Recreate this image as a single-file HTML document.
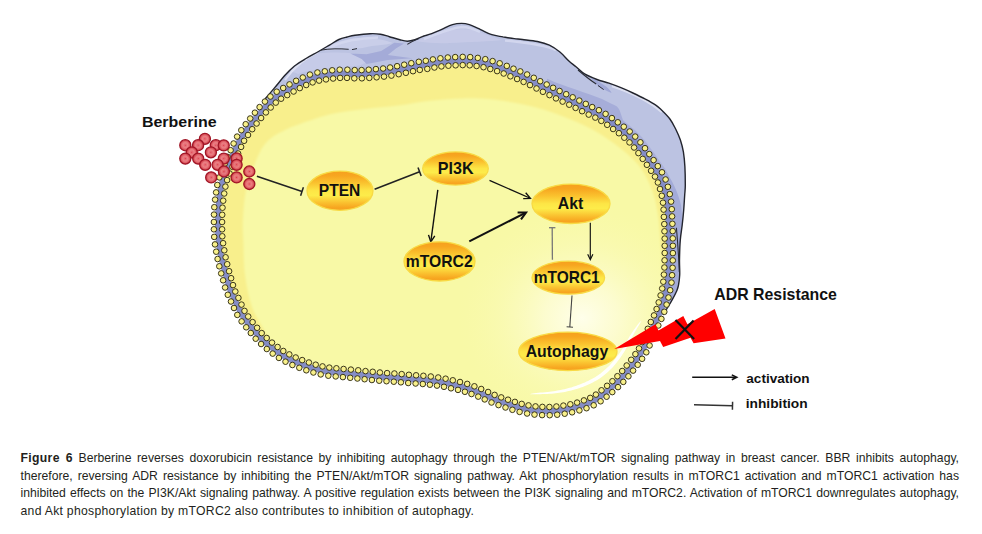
<!DOCTYPE html>
<html><head><meta charset="utf-8"><style>
html,body{margin:0;padding:0;background:#fff;width:982px;height:534px;overflow:hidden;}
svg{position:absolute;left:0;top:0;}
svg text{font-family:"Liberation Sans",sans-serif;font-weight:bold;fill:#111;}
#cap{position:absolute;left:20.5px;top:450.2px;width:938.5px;font-family:"Liberation Sans",sans-serif;font-size:12.2px;line-height:17.6px;color:#231f20;}
#cap div{text-align:justify;text-align-last:justify;white-space:nowrap;}
#cap div.last{text-align-last:left;letter-spacing:0.29px;}
#cap b{letter-spacing:0.35px;}
</style></head><body>
<svg width="982" height="534" viewBox="0 0 982 534">
<defs>
<linearGradient id="eg" x1="0" y1="0" x2="0" y2="1">
<stop offset="0" stop-color="#f6a01e"/><stop offset="0.12" stop-color="#f7a620"/><stop offset="0.3" stop-color="#fac22e"/><stop offset="0.5" stop-color="#fde646"/><stop offset="0.62" stop-color="#fdec4a"/>
<stop offset="0.8" stop-color="#fac230"/><stop offset="0.93" stop-color="#f7a620"/><stop offset="1" stop-color="#f6a01e"/></linearGradient>
<radialGradient id="bg" cx="0.5" cy="0.5" r="0.5">
<stop offset="0" stop-color="#dc2c3c"/><stop offset="0.12" stop-color="#e4606a"/><stop offset="0.45" stop-color="#ea7c80"/>
<stop offset="0.72" stop-color="#de5860"/><stop offset="0.9" stop-color="#cc3644"/><stop offset="1" stop-color="#b41e2e"/></radialGradient>
<radialGradient id="glow" cx="0.5" cy="0.5" r="0.5">
<stop offset="0" stop-color="#ffffee" stop-opacity="0.95"/><stop offset="0.3" stop-color="#fefde0" stop-opacity="0.7"/><stop offset="0.65" stop-color="#fcfbc8" stop-opacity="0.3"/><stop offset="1" stop-color="#fbf9b0" stop-opacity="0"/></radialGradient>
<clipPath id="cellclip"><path d="M218.0 222.0 C218.0 217.3 218.1 212.2 218.4 208.0 C218.7 203.8 218.9 201.5 219.6 197.0 C220.3 192.5 220.8 186.7 222.5 181.0 C224.2 175.3 227.2 168.5 229.5 163.0 C231.8 157.5 234.3 151.9 236.2 147.8 C238.0 143.8 238.8 141.8 240.6 138.7 C242.4 135.5 245.5 131.5 247.3 128.9 C249.2 126.3 250.2 125.1 251.7 123.2 C253.2 121.3 254.7 119.3 256.2 117.5 C257.7 115.7 259.1 114.0 260.7 112.2 C262.2 110.4 262.9 109.3 265.5 106.8 C268.1 104.3 272.2 100.0 276.0 97.2 C279.8 94.4 284.0 92.3 288.0 90.0 C292.0 87.7 295.7 85.5 300.0 83.4 C304.3 81.3 309.0 79.0 314.0 77.6 C319.0 76.1 325.1 75.3 330.0 74.7 C334.9 74.1 338.9 73.8 343.7 73.7 C348.5 73.6 353.7 74.3 358.7 74.3 C363.7 74.2 368.7 73.8 373.7 73.4 C378.7 73.0 383.8 72.6 388.7 71.9 C393.6 71.2 398.2 70.2 402.9 69.2 C407.6 68.2 413.5 66.9 417.1 66.2 C420.7 65.5 420.9 65.8 424.5 65.2 C428.1 64.6 433.9 63.2 438.7 62.6 C443.5 62.0 448.3 61.5 453.2 61.3 C458.1 61.0 463.2 60.8 468.2 61.1 C473.1 61.4 477.9 61.9 482.9 62.9 C487.8 63.9 493.3 65.5 497.9 67.0 C502.5 68.5 506.2 70.2 510.5 71.9 C514.8 73.6 519.3 75.4 523.7 77.4 C528.1 79.4 532.4 81.8 536.7 84.0 C541.0 86.2 545.3 88.4 549.6 90.6 C553.9 92.8 558.1 94.8 562.4 96.9 C566.7 99.0 571.3 101.2 575.6 103.3 C579.9 105.4 583.9 107.6 588.1 109.7 C592.4 111.8 596.9 113.6 601.1 116.0 C605.3 118.4 609.2 121.2 613.1 124.0 C617.0 126.8 621.0 129.5 624.7 132.6 C628.4 135.7 632.0 139.0 635.3 142.6 C638.6 146.2 641.5 150.4 644.4 154.3 C647.3 158.2 650.1 162.0 652.7 165.9 C655.3 169.8 658.3 173.7 660.2 177.5 C662.1 181.3 663.1 184.8 664.3 189.0 C665.4 193.2 666.5 197.9 667.1 202.5 C667.7 207.1 667.8 211.9 668.0 216.7 C668.2 221.4 668.5 226.3 668.6 231.0 C668.7 235.7 668.8 240.4 668.8 245.0 C668.8 249.6 668.8 254.1 668.7 258.7 C668.6 263.3 668.5 267.9 668.2 272.5 C667.9 277.1 667.6 281.6 666.8 286.3 C666.0 291.0 664.6 296.2 663.4 300.6 C662.2 305.1 661.1 308.8 659.5 313.0 C657.9 317.2 656.0 320.4 653.5 326.0 C651.0 331.6 647.3 341.1 644.7 346.3 C642.1 351.6 641.3 352.9 638.0 357.5 C634.7 362.1 628.9 369.5 625.0 374.0 C621.1 378.5 618.0 381.5 614.8 384.5 C611.6 387.5 609.2 389.5 605.7 392.2 C602.2 394.9 598.2 398.3 594.0 400.6 C589.8 402.9 584.8 404.4 580.2 405.9 C575.6 407.3 571.0 408.4 566.3 409.3 C561.5 410.2 556.6 410.8 551.7 411.0 C546.8 411.2 541.8 411.1 537.0 410.7 C532.2 410.3 527.4 409.5 522.7 408.4 C518.0 407.3 513.3 405.7 508.6 404.2 C503.9 402.7 499.1 401.1 494.6 399.3 C490.1 397.5 486.1 395.4 481.6 393.6 C477.2 391.8 472.5 389.9 467.9 388.4 C463.3 386.9 458.8 385.9 454.2 384.8 C449.6 383.7 444.9 382.7 440.1 381.9 C435.3 381.1 430.3 380.6 425.4 380.1 C420.5 379.6 415.7 379.5 410.9 379.1 C406.1 378.7 401.3 378.2 396.5 377.8 C391.7 377.4 386.7 377.2 381.9 376.8 C377.1 376.4 372.3 375.9 367.5 375.4 C362.7 374.9 357.8 374.4 353.0 373.9 C348.2 373.4 343.4 373.1 338.5 372.6 C333.6 372.1 328.3 371.8 323.3 370.8 C318.3 369.8 313.2 368.2 308.5 366.7 C303.8 365.2 299.2 363.5 294.9 361.6 C290.6 359.7 286.6 357.8 282.6 355.4 C278.6 353.0 274.7 350.1 271.0 347.1 C267.3 344.1 263.6 340.8 260.2 337.4 C256.8 334.0 253.9 330.4 250.9 326.6 C247.9 322.9 244.6 318.9 242.1 314.9 C239.6 310.8 237.9 306.5 235.9 302.3 C233.9 298.1 231.8 294.1 230.2 289.8 C228.6 285.5 227.7 281.2 226.4 276.7 C225.1 272.2 223.7 267.2 222.6 262.7 C221.5 258.2 220.7 254.0 220.0 249.6 C219.3 245.2 218.5 240.6 218.2 236.0 C217.9 231.4 218.0 226.7 218.0 222.0 Z"/></clipPath>
<clipPath id="blueclip"><path d="M265.0 99.0 C266.6 97.2 271.2 91.9 274.5 87.9 C277.8 84.0 281.7 79.0 285.0 75.3 C288.3 71.6 291.0 68.8 294.5 66.0 C298.0 63.2 302.0 60.9 306.0 58.5 C310.0 56.1 314.5 53.8 318.5 51.5 C322.5 49.2 326.5 46.8 329.9 44.8 C333.3 42.8 336.0 40.8 338.9 39.5 C341.8 38.2 344.3 37.7 347.0 37.0 C349.7 36.3 351.2 35.8 355.0 35.2 C358.8 34.7 365.8 33.9 370.0 33.7 C374.2 33.5 377.2 33.7 380.4 34.2 C383.6 34.7 386.1 35.8 389.4 36.7 C392.6 37.6 396.9 39.0 399.9 39.7 C402.9 40.5 404.9 41.2 407.4 41.2 C409.9 41.2 412.1 40.6 414.9 39.7 C417.6 38.8 421.4 36.9 423.9 36.0 C426.4 35.1 427.1 35.3 430.0 34.2 C432.9 33.1 437.4 31.2 441.2 29.6 C444.9 28.0 449.1 25.6 452.5 24.6 C455.9 23.6 458.7 23.4 461.5 23.4 C464.3 23.4 466.1 23.6 469.3 24.6 C472.5 25.6 476.9 27.9 480.6 29.6 C484.4 31.3 488.1 33.5 491.8 34.7 C495.5 35.9 499.2 36.2 503.0 36.9 C506.8 37.5 511.0 38.2 514.3 38.6 C517.5 39.0 518.6 39.0 522.5 39.5 C526.4 40.0 532.9 40.5 537.4 41.5 C541.9 42.5 545.6 43.5 549.4 45.2 C553.1 47.0 556.6 49.4 559.9 52.0 C563.1 54.6 566.2 58.5 568.9 61.0 C571.6 63.5 573.3 64.5 576.0 66.7 C578.7 68.9 581.5 72.1 585.0 74.2 C588.5 76.3 593.0 78.0 597.0 79.5 C601.0 81.0 604.9 81.8 608.9 83.2 C612.9 84.6 616.9 86.1 620.9 87.7 C624.9 89.3 628.9 91.1 632.9 93.0 C636.9 94.9 641.1 96.9 644.9 98.9 C648.6 100.9 652.7 103.1 655.4 104.9 C658.1 106.7 658.6 107.2 661.0 109.5 C663.4 111.8 667.4 115.7 669.9 119.0 C672.4 122.3 674.1 126.0 675.9 129.5 C677.6 133.0 679.1 136.3 680.4 140.0 C681.6 143.7 682.6 147.4 683.4 151.9 C684.1 156.4 684.6 161.4 684.9 166.9 C685.2 172.4 685.3 180.3 685.3 185.0 C685.3 189.7 685.0 190.8 684.7 195.0 C684.4 199.2 684.1 205.0 683.7 210.0 C683.3 215.0 682.8 220.0 682.2 225.0 C681.6 230.0 680.8 234.2 680.3 240.0 C679.8 245.8 679.6 254.2 679.5 260.0 C679.4 265.8 679.9 270.8 679.7 275.0 C679.5 279.2 679.0 282.4 678.5 285.0 C678.0 287.6 677.9 288.0 676.9 290.4 C675.9 292.8 673.9 296.6 672.4 299.4 C670.9 302.2 669.5 304.4 667.9 307.0 C666.3 309.6 663.8 313.7 663.0 315.0 L659.3 313.5 L659.5 313.0 L659.7 312.5 L659.9 312.0 L660.1 311.4 L660.3 310.9 L660.5 310.4 L660.6 309.9 L660.8 309.4 L661.0 308.9 L661.1 308.4 L661.3 307.9 L661.5 307.4 L661.6 306.9 L661.8 306.4 L661.9 305.9 L662.1 305.4 L662.2 304.9 L662.4 304.3 L662.5 303.8 L662.7 303.3 L662.8 302.8 L663.0 302.2 L663.1 301.7 L663.2 301.2 L663.4 300.6 L663.6 300.0 L663.7 299.5 L663.9 298.9 L664.0 298.3 L664.2 297.7 L664.3 297.1 L664.5 296.6 L664.6 296.0 L664.8 295.4 L665.0 294.8 L665.1 294.1 L665.3 293.5 L665.4 292.9 L665.6 292.3 L665.7 291.7 L665.8 291.1 L666.0 290.5 L666.1 289.9 L666.2 289.3 L666.4 288.7 L666.5 288.1 L666.6 287.5 L666.7 286.9 L666.8 286.3 L666.9 285.7 L667.0 285.1 L667.1 284.6 L667.2 284.0 L667.2 283.4 L667.3 282.8 L667.4 282.2 L667.4 281.7 L667.5 281.1 L667.6 280.5 L667.6 279.9 L667.7 279.4 L667.7 278.8 L667.8 278.2 L667.8 277.7 L667.9 277.1 L667.9 276.5 L668.0 275.9 L668.0 275.4 L668.0 274.8 L668.1 274.2 L668.1 273.6 L668.2 273.1 L668.2 272.5 L668.2 271.9 L668.3 271.3 L668.3 270.8 L668.3 270.2 L668.4 269.6 L668.4 269.0 L668.4 268.5 L668.4 267.9 L668.5 267.3 L668.5 266.7 L668.5 266.2 L668.5 265.6 L668.5 265.0 L668.6 264.4 L668.6 263.9 L668.6 263.3 L668.6 262.7 L668.6 262.1 L668.6 261.6 L668.7 261.0 L668.7 260.4 L668.7 259.8 L668.7 259.3 L668.7 258.7 L668.7 258.1 L668.7 257.6 L668.7 257.0 L668.7 256.4 L668.8 255.8 L668.8 255.3 L668.8 254.7 L668.8 254.1 L668.8 253.6 L668.8 253.0 L668.8 252.4 L668.8 251.9 L668.8 251.3 L668.8 250.7 L668.8 250.2 L668.8 249.6 L668.8 249.0 L668.8 248.4 L668.8 247.9 L668.8 247.3 L668.8 246.7 L668.8 246.2 L668.8 245.6 L668.8 245.0 L668.8 244.4 L668.8 243.8 L668.8 243.3 L668.8 242.7 L668.8 242.1 L668.8 241.5 L668.8 240.9 L668.8 240.4 L668.8 239.8 L668.8 239.2 L668.8 238.6 L668.7 238.0 L668.7 237.5 L668.7 236.9 L668.7 236.3 L668.7 235.7 L668.7 235.1 L668.7 234.5 L668.7 233.9 L668.7 233.4 L668.6 232.8 L668.6 232.2 L668.6 231.6 L668.6 231.0 L668.6 230.4 L668.6 229.8 L668.5 229.2 L668.5 228.6 L668.5 228.0 L668.5 227.4 L668.5 226.8 L668.4 226.3 L668.4 225.7 L668.4 225.1 L668.4 224.5 L668.3 223.9 L668.3 223.3 L668.3 222.7 L668.3 222.1 L668.2 221.5 L668.2 220.9 L668.2 220.3 L668.2 219.7 L668.1 219.1 L668.1 218.5 L668.1 217.9 L668.0 217.3 L668.0 216.7 L668.0 216.1 L667.9 215.5 L667.9 214.9 L667.9 214.3 L667.9 213.7 L667.8 213.1 L667.8 212.5 L667.8 211.9 L667.8 211.3 L667.7 210.7 L667.7 210.1 L667.7 209.6 L667.7 209.0 L667.6 208.4 L667.6 207.8 L667.6 207.2 L667.5 206.6 L667.5 206.0 L667.4 205.4 L667.4 204.8 L667.3 204.2 L667.2 203.7 L667.2 203.1 L667.1 202.5 L667.0 201.9 L666.9 201.3 L666.8 200.8 L666.8 200.2 L666.7 199.6 L666.6 199.0 L666.5 198.5 L666.4 197.9 L666.2 197.3 L666.1 196.7 L666.0 196.2 L665.9 195.6 L665.8 195.0 L665.7 194.4 L665.5 193.9 L665.4 193.3 L665.3 192.8 L665.1 192.2 L665.0 191.7 L664.9 191.1 L664.7 190.6 L664.6 190.1 L664.4 189.5 L664.3 189.0 L664.2 188.5 L664.0 188.0 L663.9 187.5 L663.7 187.0 L663.6 186.5 L663.4 186.0 L663.3 185.5 L663.2 185.0 L663.0 184.5 L662.9 184.1 L662.7 183.6 L662.5 183.1 L662.4 182.7 L662.2 182.2 L662.0 181.7 L661.9 181.3 L661.7 180.8 L661.5 180.3 L661.3 179.9 L661.1 179.4 L660.9 178.9 L660.7 178.5 L660.4 178.0 L660.2 177.5 L660.0 177.0 L659.7 176.5 L659.4 176.1 L659.2 175.6 L658.9 175.1 L658.6 174.6 L658.3 174.1 L658.0 173.6 L657.7 173.2 L657.4 172.7 L657.0 172.2 L656.7 171.7 L656.4 171.2 L656.1 170.7 L655.7 170.3 L655.4 169.8 L655.0 169.3 L654.7 168.8 L654.4 168.3 L654.0 167.8 L653.7 167.4 L653.4 166.9 L653.0 166.4 L652.7 165.9 L652.4 165.4 L652.0 164.9 L651.7 164.5 L651.4 164.0 L651.0 163.5 L650.7 163.0 L650.4 162.5 L650.0 162.0 L649.7 161.6 L649.3 161.1 L649.0 160.6 L648.6 160.1 L648.3 159.6 L648.0 159.1 L647.6 158.7 L647.3 158.2 L646.9 157.7 L646.6 157.2 L646.2 156.7 L645.8 156.2 L645.5 155.8 L645.1 155.3 L644.8 154.8 L644.4 154.3 L644.0 153.8 L643.7 153.3 L643.3 152.8 L642.9 152.3 L642.6 151.8 L642.2 151.3 L641.8 150.8 L641.5 150.3 L641.1 149.8 L640.7 149.3 L640.4 148.8 L640.0 148.3 L639.6 147.9 L639.2 147.4 L638.9 146.9 L638.5 146.4 L638.1 145.9 L637.7 145.4 L637.3 144.9 L636.9 144.5 L636.5 144.0 L636.1 143.5 L635.7 143.1 L635.3 142.6 L634.9 142.1 L634.5 141.7 L634.1 141.3 L633.6 140.8 L633.2 140.4 L632.8 139.9 L632.3 139.5 L631.9 139.1 L631.5 138.7 L631.0 138.2 L630.6 137.8 L630.2 137.4 L629.7 137.0 L629.3 136.6 L628.8 136.2 L628.4 135.8 L627.9 135.4 L627.5 135.0 L627.0 134.6 L626.5 134.2 L626.1 133.8 L625.6 133.4 L625.2 133.0 L624.7 132.6 L624.2 132.2 L623.8 131.8 L623.3 131.5 L622.8 131.1 L622.4 130.7 L621.9 130.3 L621.4 130.0 L620.9 129.6 L620.4 129.2 L620.0 128.9 L619.5 128.5 L619.0 128.2 L618.5 127.8 L618.0 127.5 L617.5 127.1 L617.0 126.8 L616.5 126.4 L616.1 126.1 L615.6 125.7 L615.1 125.4 L614.6 125.0 L614.1 124.7 L613.6 124.3 L613.1 124.0 L612.6 123.7 L612.1 123.3 L611.6 123.0 L611.1 122.6 L610.6 122.3 L610.2 121.9 L609.7 121.6 L609.2 121.2 L608.7 120.9 L608.2 120.5 L607.7 120.2 L607.2 119.9 L606.7 119.5 L606.2 119.2 L605.7 118.8 L605.2 118.5 L604.7 118.2 L604.2 117.9 L603.7 117.5 L603.2 117.2 L602.7 116.9 L602.1 116.6 L601.6 116.3 L601.1 116.0 L600.6 115.7 L600.1 115.4 L599.5 115.1 L599.0 114.9 L598.4 114.6 L597.9 114.3 L597.4 114.0 L596.8 113.8 L596.3 113.5 L595.7 113.3 L595.2 113.0 L594.6 112.8 L594.1 112.5 L593.5 112.2 L593.0 112.0 L592.4 111.7 L591.9 111.5 L591.3 111.2 L590.8 111.0 L590.2 110.7 L589.7 110.5 L589.2 110.2 L588.6 110.0 L588.1 109.7 L587.6 109.4 L587.0 109.2 L586.5 108.9 L586.0 108.6 L585.5 108.4 L585.0 108.1 L584.4 107.8 L583.9 107.6 L583.4 107.3 L582.9 107.0 L582.4 106.8 L581.9 106.5 L581.3 106.2 L580.8 106.0 L580.3 105.7 L579.8 105.4 L579.3 105.2 L578.8 104.9 L578.2 104.6 L577.7 104.4 L577.2 104.1 L576.7 103.8 L576.1 103.6 L575.6 103.3 L575.1 103.0 L574.5 102.8 L574.0 102.5 L573.4 102.2 L572.9 102.0 L572.3 101.7 L571.8 101.4 L571.2 101.2 L570.7 100.9 L570.1 100.6 L569.6 100.4 L569.0 100.1 L568.5 99.8 L567.9 99.6 L567.4 99.3 L566.8 99.0 L566.2 98.8 L565.7 98.5 L565.1 98.2 L564.6 98.0 L564.0 97.7 L563.5 97.4 L562.9 97.2 L562.4 96.9 L561.9 96.6 L561.3 96.4 L560.8 96.1 L560.2 95.8 L559.7 95.6 L559.2 95.3 L558.6 95.1 L558.1 94.8 L557.6 94.5 L557.0 94.3 L556.5 94.0 L556.0 93.8 L555.5 93.5 L554.9 93.2 L554.4 93.0 L553.9 92.7 L553.3 92.5 L552.8 92.2 L552.3 91.9 L551.7 91.7 L551.2 91.4 L550.7 91.1 L550.1 90.9 L549.6 90.6 L549.1 90.3 L548.5 90.1 L548.0 89.8 L547.5 89.5 L546.9 89.2 L546.4 89.0 L545.8 88.7 L545.3 88.4 L544.8 88.1 L544.2 87.9 L543.7 87.6 L543.2 87.3 L542.6 87.0 L542.1 86.8 L541.5 86.5 L541.0 86.2 L540.5 85.9 L539.9 85.7 L539.4 85.4 L538.9 85.1 L538.3 84.8 L537.8 84.6 L537.2 84.3 L536.7 84.0 L536.2 83.7 L535.6 83.4 L535.1 83.2 L534.5 82.9 L534.0 82.6 L533.5 82.3 L532.9 82.0 L532.4 81.8 L531.8 81.5 L531.3 81.2 L530.8 80.9 L530.2 80.6 L529.7 80.4 L529.1 80.1 L528.6 79.8 L528.1 79.5 L527.5 79.2 L527.0 79.0 L526.4 78.7 L525.9 78.4 L525.3 78.2 L524.8 77.9 L524.2 77.7 L523.7 77.4 L523.2 77.1 L522.6 76.9 L522.1 76.7 L521.5 76.4 L521.0 76.2 L520.4 75.9 L519.8 75.7 L519.3 75.5 L518.7 75.2 L518.2 75.0 L517.6 74.8 L517.1 74.5 L516.5 74.3 L516.0 74.1 L515.4 73.9 L514.9 73.6 L514.3 73.4 L513.8 73.2 L513.2 73.0 L512.7 72.8 L512.1 72.6 L511.6 72.3 L511.0 72.1 L510.5 71.9 L510.0 71.7 L509.4 71.5 L508.9 71.3 L508.4 71.0 L507.9 70.8 L507.4 70.6 L506.9 70.4 L506.3 70.2 L505.8 70.0 L505.3 69.8 L504.8 69.6 L504.3 69.4 L503.8 69.2 L503.3 69.0 L502.8 68.8 L502.3 68.6 L501.7 68.4 L501.2 68.2 L500.7 68.0 L500.1 67.8 L499.6 67.6 L499.0 67.4 L498.5 67.2 L497.9 67.0 L497.3 66.8 L496.7 66.6 L496.1 66.4 L495.5 66.2 L494.9 66.1 L494.3 65.9 L493.7 65.7 L493.1 65.5 L492.4 65.3 L491.8 65.1 L491.2 64.9 L490.5 64.8 L489.9 64.6 L489.3 64.4 L488.6 64.2 L488.0 64.1 L487.3 63.9 L486.7 63.7 L486.0 63.6 L485.4 63.4 L484.8 63.3 L484.1 63.2 L483.5 63.0 L482.9 62.9 L482.3 62.8 L481.7 62.7 L481.1 62.6 L480.4 62.4 L479.8 62.3 L479.2 62.2 L478.6 62.1 L478.0 62.1 L477.4 62.0 L476.8 61.9 L476.2 61.8 L475.6 61.7 L474.9 61.7 L474.3 61.6 L473.7 61.5 L473.1 61.5 L472.5 61.4 L471.9 61.4 L471.3 61.3 L470.7 61.3 L470.0 61.2 L469.4 61.2 L468.8 61.1 L468.2 61.1 L467.6 61.1 L467.0 61.0 L466.3 61.0 L465.7 61.0 L465.1 61.0 L464.5 61.0 L463.8 61.0 L463.2 61.0 L462.6 61.0 L461.9 61.0 L461.3 61.0 L460.7 61.0 L460.1 61.0 L459.4 61.0 L458.8 61.1 L458.2 61.1 L457.5 61.1 L456.9 61.1 L456.3 61.2 L455.7 61.2 L455.1 61.2 L454.4 61.2 L453.8 61.3 L453.2 61.3 L452.6 61.3 L452.0 61.4 L451.4 61.4 L450.8 61.4 L450.1 61.5 L449.5 61.5 L448.9 61.6 L448.3 61.6 L447.7 61.6 L447.1 61.7 L446.5 61.7 L445.9 61.8 L445.3 61.9 L444.7 61.9 L444.1 62.0 L443.5 62.0 L442.9 62.1 L442.3 62.2 L441.7 62.2 L441.1 62.3 L440.5 62.4 L439.9 62.4 L439.3 62.5 L438.7 62.6 L438.1 62.7 L437.5 62.8 L436.9 62.9 L436.2 63.0 L435.6 63.1 L435.0 63.2 L434.3 63.3 L433.7 63.4 L433.1 63.6 L432.4 63.7 L431.8 63.8 L431.2 63.9 L430.5 64.0 L429.9 64.2 L429.3 64.3 L428.7 64.4 L428.1 64.5 L427.6 64.6 L427.0 64.7 L426.5 64.8 L425.9 64.9 L425.4 65.0 L425.0 65.1 L424.5 65.2 L424.1 65.3 L423.7 65.3 L423.3 65.4 L423.0 65.4 L422.6 65.5 L422.3 65.5 L422.0 65.5 L421.8 65.6 L421.5 65.6 L421.3 65.6 L421.0 65.7 L420.8 65.7 L420.6 65.7 L420.3 65.7 L420.1 65.7 L419.8 65.8 L419.6 65.8 L419.3 65.8 L419.0 65.9 L418.6 65.9 L418.3 66.0 L417.9 66.1 L417.5 66.1 L417.1 66.2 L416.6 66.3 L416.2 66.4 L415.7 66.5 L415.1 66.6 L414.6 66.7 L414.0 66.8 L413.5 66.9 L412.9 67.1 L412.3 67.2 L411.7 67.3 L411.0 67.5 L410.4 67.6 L409.8 67.7 L409.2 67.9 L408.5 68.0 L407.9 68.1 L407.2 68.3 L406.6 68.4 L406.0 68.6 L405.3 68.7 L404.7 68.8 L404.1 69.0 L403.5 69.1 L402.9 69.2 L402.3 69.3 L401.7 69.4 L401.1 69.6 L400.5 69.7 L400.0 69.8 L399.4 69.9 L398.8 70.0 L398.2 70.2 L397.6 70.3 L397.0 70.4 L396.4 70.5 L395.9 70.6 L395.3 70.8 L394.7 70.9 L394.1 71.0 L393.5 71.1 L392.9 71.2 L392.3 71.3 L391.7 71.4 L391.1 71.5 L390.5 71.6 L389.9 71.7 L389.3 71.8 L388.7 71.9 L388.1 72.0 L387.5 72.1 L386.9 72.1 L386.2 72.2 L385.6 72.3 L385.0 72.4 L384.4 72.4 L383.8 72.5 L383.1 72.6 L382.5 72.6 L381.9 72.7 L381.2 72.8 L380.6 72.8 L380.0 72.9 L379.4 72.9 L378.7 73.0 L378.1 73.0 L377.5 73.1 L376.8 73.1 L376.2 73.2 L375.6 73.2 L375.0 73.3 L374.3 73.3 L373.7 73.4 L373.1 73.5 L372.4 73.5 L371.8 73.6 L371.2 73.6 L370.6 73.7 L369.9 73.7 L369.3 73.8 L368.7 73.8 L368.1 73.8 L367.4 73.9 L366.8 73.9 L366.2 74.0 L365.6 74.0 L364.9 74.1 L364.3 74.1 L363.7 74.1 L363.1 74.2 L362.4 74.2 L361.8 74.2 L361.2 74.2 L360.6 74.3 L359.9 74.3 L359.3 74.3 L358.7 74.3 L358.1 74.3 L357.4 74.3 L356.8 74.3 L356.2 74.3 L355.6 74.2 L354.9 74.2 L354.3 74.2 L353.7 74.2 L353.0 74.1 L352.4 74.1 L351.8 74.0 L351.1 74.0 L350.5 74.0 L349.9 73.9 L349.2 73.9 L348.6 73.8 L348.0 73.8 L347.4 73.8 L346.7 73.7 L346.1 73.7 L345.5 73.7 L344.9 73.7 L344.3 73.7 L343.7 73.7 L343.1 73.7 L342.5 73.7 L341.9 73.7 L341.4 73.8 L340.8 73.8 L340.2 73.8 L339.7 73.8 L339.1 73.8 L338.6 73.9 L338.0 73.9 L337.5 73.9 L336.9 74.0 L336.4 74.0 L335.8 74.1 L335.2 74.1 L334.7 74.2 L334.1 74.2 L333.6 74.3 L333.0 74.3 L332.4 74.4 L331.8 74.5 L331.2 74.5 L330.6 74.6 L330.0 74.7 L329.4 74.8 L328.7 74.9 L328.1 75.0 L327.4 75.0 L326.8 75.1 L326.1 75.2 L325.4 75.3 L324.8 75.4 L324.1 75.5 L323.4 75.6 L322.7 75.7 L322.0 75.8 L321.3 76.0 L320.6 76.1 L320.0 76.2 L319.3 76.3 L318.6 76.5 L317.9 76.6 L317.2 76.8 L316.6 76.9 L315.9 77.1 L315.3 77.3 L314.6 77.4 L314.0 77.6 L313.4 77.8 L312.8 78.0 L312.1 78.2 L311.5 78.4 L310.9 78.6 L310.3 78.8 L309.7 79.1 L309.1 79.3 L308.5 79.5 L307.9 79.8 L307.3 80.0 L306.8 80.3 L306.2 80.5 L305.6 80.8 L305.0 81.0 L304.4 81.3 L303.9 81.6 L303.3 81.8 L302.8 82.1 L302.2 82.4 L301.6 82.6 L301.1 82.9 L300.5 83.1 L300.0 83.4 L299.5 83.7 L298.9 83.9 L298.4 84.2 L297.9 84.4 L297.4 84.7 L296.9 85.0 L296.4 85.2 L295.9 85.5 L295.4 85.8 L294.9 86.1 L294.4 86.3 L293.9 86.6 L293.4 86.9 L292.9 87.2 L292.4 87.4 L291.9 87.7 L291.4 88.0 L291.0 88.3 L290.5 88.6 L290.0 88.9 L289.5 89.1 L289.0 89.4 L288.5 89.7 L288.0 90.0 L287.5 90.3 L287.0 90.6 L286.5 90.9 L286.0 91.1 L285.5 91.4 L285.0 91.7 L284.5 92.0 L283.9 92.3 L283.4 92.6 L282.9 92.8 L282.4 93.1 L281.9 93.4 L281.4 93.7 L280.9 94.0 L280.4 94.3 L279.9 94.6 L279.4 94.9 L278.9 95.2 L278.4 95.5 L277.9 95.9 L277.4 96.2 L276.9 96.5 L276.5 96.9 L276.0 97.2 L275.5 97.6 L275.1 97.9 L274.6 98.3 L274.1 98.7 L273.6 99.1 L273.1 99.5 L272.7 100.0 L272.2 100.4 L271.7 100.8 L271.2 101.2 L270.8 101.7 L270.3 102.1 L269.8 102.5 L269.4 103.0 L269.0 103.4 Z"/></clipPath>
<filter id="blur3" x="-10%" y="-10%" width="120%" height="120%"><feGaussianBlur stdDeviation="1.3"/></filter>
</defs>
<path d="M265.0 99.0 C266.6 97.2 271.2 91.9 274.5 87.9 C277.8 84.0 281.7 79.0 285.0 75.3 C288.3 71.6 291.0 68.8 294.5 66.0 C298.0 63.2 302.0 60.9 306.0 58.5 C310.0 56.1 314.5 53.8 318.5 51.5 C322.5 49.2 326.5 46.8 329.9 44.8 C333.3 42.8 336.0 40.8 338.9 39.5 C341.8 38.2 344.3 37.7 347.0 37.0 C349.7 36.3 351.2 35.8 355.0 35.2 C358.8 34.7 365.8 33.9 370.0 33.7 C374.2 33.5 377.2 33.7 380.4 34.2 C383.6 34.7 386.1 35.8 389.4 36.7 C392.6 37.6 396.9 39.0 399.9 39.7 C402.9 40.5 404.9 41.2 407.4 41.2 C409.9 41.2 412.1 40.6 414.9 39.7 C417.6 38.8 421.4 36.9 423.9 36.0 C426.4 35.1 427.1 35.3 430.0 34.2 C432.9 33.1 437.4 31.2 441.2 29.6 C444.9 28.0 449.1 25.6 452.5 24.6 C455.9 23.6 458.7 23.4 461.5 23.4 C464.3 23.4 466.1 23.6 469.3 24.6 C472.5 25.6 476.9 27.9 480.6 29.6 C484.4 31.3 488.1 33.5 491.8 34.7 C495.5 35.9 499.2 36.2 503.0 36.9 C506.8 37.5 511.0 38.2 514.3 38.6 C517.5 39.0 518.6 39.0 522.5 39.5 C526.4 40.0 532.9 40.5 537.4 41.5 C541.9 42.5 545.6 43.5 549.4 45.2 C553.1 47.0 556.6 49.4 559.9 52.0 C563.1 54.6 566.2 58.5 568.9 61.0 C571.6 63.5 573.3 64.5 576.0 66.7 C578.7 68.9 581.5 72.1 585.0 74.2 C588.5 76.3 593.0 78.0 597.0 79.5 C601.0 81.0 604.9 81.8 608.9 83.2 C612.9 84.6 616.9 86.1 620.9 87.7 C624.9 89.3 628.9 91.1 632.9 93.0 C636.9 94.9 641.1 96.9 644.9 98.9 C648.6 100.9 652.7 103.1 655.4 104.9 C658.1 106.7 658.6 107.2 661.0 109.5 C663.4 111.8 667.4 115.7 669.9 119.0 C672.4 122.3 674.1 126.0 675.9 129.5 C677.6 133.0 679.1 136.3 680.4 140.0 C681.6 143.7 682.6 147.4 683.4 151.9 C684.1 156.4 684.6 161.4 684.9 166.9 C685.2 172.4 685.3 180.3 685.3 185.0 C685.3 189.7 685.0 190.8 684.7 195.0 C684.4 199.2 684.1 205.0 683.7 210.0 C683.3 215.0 682.8 220.0 682.2 225.0 C681.6 230.0 680.8 234.2 680.3 240.0 C679.8 245.8 679.6 254.2 679.5 260.0 C679.4 265.8 679.9 270.8 679.7 275.0 C679.5 279.2 679.0 282.4 678.5 285.0 C678.0 287.6 677.9 288.0 676.9 290.4 C675.9 292.8 673.9 296.6 672.4 299.4 C670.9 302.2 669.5 304.4 667.9 307.0 C666.3 309.6 663.8 313.7 663.0 315.0 L659.3 313.5 L659.5 313.0 L659.7 312.5 L659.9 312.0 L660.1 311.4 L660.3 310.9 L660.5 310.4 L660.6 309.9 L660.8 309.4 L661.0 308.9 L661.1 308.4 L661.3 307.9 L661.5 307.4 L661.6 306.9 L661.8 306.4 L661.9 305.9 L662.1 305.4 L662.2 304.9 L662.4 304.3 L662.5 303.8 L662.7 303.3 L662.8 302.8 L663.0 302.2 L663.1 301.7 L663.2 301.2 L663.4 300.6 L663.6 300.0 L663.7 299.5 L663.9 298.9 L664.0 298.3 L664.2 297.7 L664.3 297.1 L664.5 296.6 L664.6 296.0 L664.8 295.4 L665.0 294.8 L665.1 294.1 L665.3 293.5 L665.4 292.9 L665.6 292.3 L665.7 291.7 L665.8 291.1 L666.0 290.5 L666.1 289.9 L666.2 289.3 L666.4 288.7 L666.5 288.1 L666.6 287.5 L666.7 286.9 L666.8 286.3 L666.9 285.7 L667.0 285.1 L667.1 284.6 L667.2 284.0 L667.2 283.4 L667.3 282.8 L667.4 282.2 L667.4 281.7 L667.5 281.1 L667.6 280.5 L667.6 279.9 L667.7 279.4 L667.7 278.8 L667.8 278.2 L667.8 277.7 L667.9 277.1 L667.9 276.5 L668.0 275.9 L668.0 275.4 L668.0 274.8 L668.1 274.2 L668.1 273.6 L668.2 273.1 L668.2 272.5 L668.2 271.9 L668.3 271.3 L668.3 270.8 L668.3 270.2 L668.4 269.6 L668.4 269.0 L668.4 268.5 L668.4 267.9 L668.5 267.3 L668.5 266.7 L668.5 266.2 L668.5 265.6 L668.5 265.0 L668.6 264.4 L668.6 263.9 L668.6 263.3 L668.6 262.7 L668.6 262.1 L668.6 261.6 L668.7 261.0 L668.7 260.4 L668.7 259.8 L668.7 259.3 L668.7 258.7 L668.7 258.1 L668.7 257.6 L668.7 257.0 L668.7 256.4 L668.8 255.8 L668.8 255.3 L668.8 254.7 L668.8 254.1 L668.8 253.6 L668.8 253.0 L668.8 252.4 L668.8 251.9 L668.8 251.3 L668.8 250.7 L668.8 250.2 L668.8 249.6 L668.8 249.0 L668.8 248.4 L668.8 247.9 L668.8 247.3 L668.8 246.7 L668.8 246.2 L668.8 245.6 L668.8 245.0 L668.8 244.4 L668.8 243.8 L668.8 243.3 L668.8 242.7 L668.8 242.1 L668.8 241.5 L668.8 240.9 L668.8 240.4 L668.8 239.8 L668.8 239.2 L668.8 238.6 L668.7 238.0 L668.7 237.5 L668.7 236.9 L668.7 236.3 L668.7 235.7 L668.7 235.1 L668.7 234.5 L668.7 233.9 L668.7 233.4 L668.6 232.8 L668.6 232.2 L668.6 231.6 L668.6 231.0 L668.6 230.4 L668.6 229.8 L668.5 229.2 L668.5 228.6 L668.5 228.0 L668.5 227.4 L668.5 226.8 L668.4 226.3 L668.4 225.7 L668.4 225.1 L668.4 224.5 L668.3 223.9 L668.3 223.3 L668.3 222.7 L668.3 222.1 L668.2 221.5 L668.2 220.9 L668.2 220.3 L668.2 219.7 L668.1 219.1 L668.1 218.5 L668.1 217.9 L668.0 217.3 L668.0 216.7 L668.0 216.1 L667.9 215.5 L667.9 214.9 L667.9 214.3 L667.9 213.7 L667.8 213.1 L667.8 212.5 L667.8 211.9 L667.8 211.3 L667.7 210.7 L667.7 210.1 L667.7 209.6 L667.7 209.0 L667.6 208.4 L667.6 207.8 L667.6 207.2 L667.5 206.6 L667.5 206.0 L667.4 205.4 L667.4 204.8 L667.3 204.2 L667.2 203.7 L667.2 203.1 L667.1 202.5 L667.0 201.9 L666.9 201.3 L666.8 200.8 L666.8 200.2 L666.7 199.6 L666.6 199.0 L666.5 198.5 L666.4 197.9 L666.2 197.3 L666.1 196.7 L666.0 196.2 L665.9 195.6 L665.8 195.0 L665.7 194.4 L665.5 193.9 L665.4 193.3 L665.3 192.8 L665.1 192.2 L665.0 191.7 L664.9 191.1 L664.7 190.6 L664.6 190.1 L664.4 189.5 L664.3 189.0 L664.2 188.5 L664.0 188.0 L663.9 187.5 L663.7 187.0 L663.6 186.5 L663.4 186.0 L663.3 185.5 L663.2 185.0 L663.0 184.5 L662.9 184.1 L662.7 183.6 L662.5 183.1 L662.4 182.7 L662.2 182.2 L662.0 181.7 L661.9 181.3 L661.7 180.8 L661.5 180.3 L661.3 179.9 L661.1 179.4 L660.9 178.9 L660.7 178.5 L660.4 178.0 L660.2 177.5 L660.0 177.0 L659.7 176.5 L659.4 176.1 L659.2 175.6 L658.9 175.1 L658.6 174.6 L658.3 174.1 L658.0 173.6 L657.7 173.2 L657.4 172.7 L657.0 172.2 L656.7 171.7 L656.4 171.2 L656.1 170.7 L655.7 170.3 L655.4 169.8 L655.0 169.3 L654.7 168.8 L654.4 168.3 L654.0 167.8 L653.7 167.4 L653.4 166.9 L653.0 166.4 L652.7 165.9 L652.4 165.4 L652.0 164.9 L651.7 164.5 L651.4 164.0 L651.0 163.5 L650.7 163.0 L650.4 162.5 L650.0 162.0 L649.7 161.6 L649.3 161.1 L649.0 160.6 L648.6 160.1 L648.3 159.6 L648.0 159.1 L647.6 158.7 L647.3 158.2 L646.9 157.7 L646.6 157.2 L646.2 156.7 L645.8 156.2 L645.5 155.8 L645.1 155.3 L644.8 154.8 L644.4 154.3 L644.0 153.8 L643.7 153.3 L643.3 152.8 L642.9 152.3 L642.6 151.8 L642.2 151.3 L641.8 150.8 L641.5 150.3 L641.1 149.8 L640.7 149.3 L640.4 148.8 L640.0 148.3 L639.6 147.9 L639.2 147.4 L638.9 146.9 L638.5 146.4 L638.1 145.9 L637.7 145.4 L637.3 144.9 L636.9 144.5 L636.5 144.0 L636.1 143.5 L635.7 143.1 L635.3 142.6 L634.9 142.1 L634.5 141.7 L634.1 141.3 L633.6 140.8 L633.2 140.4 L632.8 139.9 L632.3 139.5 L631.9 139.1 L631.5 138.7 L631.0 138.2 L630.6 137.8 L630.2 137.4 L629.7 137.0 L629.3 136.6 L628.8 136.2 L628.4 135.8 L627.9 135.4 L627.5 135.0 L627.0 134.6 L626.5 134.2 L626.1 133.8 L625.6 133.4 L625.2 133.0 L624.7 132.6 L624.2 132.2 L623.8 131.8 L623.3 131.5 L622.8 131.1 L622.4 130.7 L621.9 130.3 L621.4 130.0 L620.9 129.6 L620.4 129.2 L620.0 128.9 L619.5 128.5 L619.0 128.2 L618.5 127.8 L618.0 127.5 L617.5 127.1 L617.0 126.8 L616.5 126.4 L616.1 126.1 L615.6 125.7 L615.1 125.4 L614.6 125.0 L614.1 124.7 L613.6 124.3 L613.1 124.0 L612.6 123.7 L612.1 123.3 L611.6 123.0 L611.1 122.6 L610.6 122.3 L610.2 121.9 L609.7 121.6 L609.2 121.2 L608.7 120.9 L608.2 120.5 L607.7 120.2 L607.2 119.9 L606.7 119.5 L606.2 119.2 L605.7 118.8 L605.2 118.5 L604.7 118.2 L604.2 117.9 L603.7 117.5 L603.2 117.2 L602.7 116.9 L602.1 116.6 L601.6 116.3 L601.1 116.0 L600.6 115.7 L600.1 115.4 L599.5 115.1 L599.0 114.9 L598.4 114.6 L597.9 114.3 L597.4 114.0 L596.8 113.8 L596.3 113.5 L595.7 113.3 L595.2 113.0 L594.6 112.8 L594.1 112.5 L593.5 112.2 L593.0 112.0 L592.4 111.7 L591.9 111.5 L591.3 111.2 L590.8 111.0 L590.2 110.7 L589.7 110.5 L589.2 110.2 L588.6 110.0 L588.1 109.7 L587.6 109.4 L587.0 109.2 L586.5 108.9 L586.0 108.6 L585.5 108.4 L585.0 108.1 L584.4 107.8 L583.9 107.6 L583.4 107.3 L582.9 107.0 L582.4 106.8 L581.9 106.5 L581.3 106.2 L580.8 106.0 L580.3 105.7 L579.8 105.4 L579.3 105.2 L578.8 104.9 L578.2 104.6 L577.7 104.4 L577.2 104.1 L576.7 103.8 L576.1 103.6 L575.6 103.3 L575.1 103.0 L574.5 102.8 L574.0 102.5 L573.4 102.2 L572.9 102.0 L572.3 101.7 L571.8 101.4 L571.2 101.2 L570.7 100.9 L570.1 100.6 L569.6 100.4 L569.0 100.1 L568.5 99.8 L567.9 99.6 L567.4 99.3 L566.8 99.0 L566.2 98.8 L565.7 98.5 L565.1 98.2 L564.6 98.0 L564.0 97.7 L563.5 97.4 L562.9 97.2 L562.4 96.9 L561.9 96.6 L561.3 96.4 L560.8 96.1 L560.2 95.8 L559.7 95.6 L559.2 95.3 L558.6 95.1 L558.1 94.8 L557.6 94.5 L557.0 94.3 L556.5 94.0 L556.0 93.8 L555.5 93.5 L554.9 93.2 L554.4 93.0 L553.9 92.7 L553.3 92.5 L552.8 92.2 L552.3 91.9 L551.7 91.7 L551.2 91.4 L550.7 91.1 L550.1 90.9 L549.6 90.6 L549.1 90.3 L548.5 90.1 L548.0 89.8 L547.5 89.5 L546.9 89.2 L546.4 89.0 L545.8 88.7 L545.3 88.4 L544.8 88.1 L544.2 87.9 L543.7 87.6 L543.2 87.3 L542.6 87.0 L542.1 86.8 L541.5 86.5 L541.0 86.2 L540.5 85.9 L539.9 85.7 L539.4 85.4 L538.9 85.1 L538.3 84.8 L537.8 84.6 L537.2 84.3 L536.7 84.0 L536.2 83.7 L535.6 83.4 L535.1 83.2 L534.5 82.9 L534.0 82.6 L533.5 82.3 L532.9 82.0 L532.4 81.8 L531.8 81.5 L531.3 81.2 L530.8 80.9 L530.2 80.6 L529.7 80.4 L529.1 80.1 L528.6 79.8 L528.1 79.5 L527.5 79.2 L527.0 79.0 L526.4 78.7 L525.9 78.4 L525.3 78.2 L524.8 77.9 L524.2 77.7 L523.7 77.4 L523.2 77.1 L522.6 76.9 L522.1 76.7 L521.5 76.4 L521.0 76.2 L520.4 75.9 L519.8 75.7 L519.3 75.5 L518.7 75.2 L518.2 75.0 L517.6 74.8 L517.1 74.5 L516.5 74.3 L516.0 74.1 L515.4 73.9 L514.9 73.6 L514.3 73.4 L513.8 73.2 L513.2 73.0 L512.7 72.8 L512.1 72.6 L511.6 72.3 L511.0 72.1 L510.5 71.9 L510.0 71.7 L509.4 71.5 L508.9 71.3 L508.4 71.0 L507.9 70.8 L507.4 70.6 L506.9 70.4 L506.3 70.2 L505.8 70.0 L505.3 69.8 L504.8 69.6 L504.3 69.4 L503.8 69.2 L503.3 69.0 L502.8 68.8 L502.3 68.6 L501.7 68.4 L501.2 68.2 L500.7 68.0 L500.1 67.8 L499.6 67.6 L499.0 67.4 L498.5 67.2 L497.9 67.0 L497.3 66.8 L496.7 66.6 L496.1 66.4 L495.5 66.2 L494.9 66.1 L494.3 65.9 L493.7 65.7 L493.1 65.5 L492.4 65.3 L491.8 65.1 L491.2 64.9 L490.5 64.8 L489.9 64.6 L489.3 64.4 L488.6 64.2 L488.0 64.1 L487.3 63.9 L486.7 63.7 L486.0 63.6 L485.4 63.4 L484.8 63.3 L484.1 63.2 L483.5 63.0 L482.9 62.9 L482.3 62.8 L481.7 62.7 L481.1 62.6 L480.4 62.4 L479.8 62.3 L479.2 62.2 L478.6 62.1 L478.0 62.1 L477.4 62.0 L476.8 61.9 L476.2 61.8 L475.6 61.7 L474.9 61.7 L474.3 61.6 L473.7 61.5 L473.1 61.5 L472.5 61.4 L471.9 61.4 L471.3 61.3 L470.7 61.3 L470.0 61.2 L469.4 61.2 L468.8 61.1 L468.2 61.1 L467.6 61.1 L467.0 61.0 L466.3 61.0 L465.7 61.0 L465.1 61.0 L464.5 61.0 L463.8 61.0 L463.2 61.0 L462.6 61.0 L461.9 61.0 L461.3 61.0 L460.7 61.0 L460.1 61.0 L459.4 61.0 L458.8 61.1 L458.2 61.1 L457.5 61.1 L456.9 61.1 L456.3 61.2 L455.7 61.2 L455.1 61.2 L454.4 61.2 L453.8 61.3 L453.2 61.3 L452.6 61.3 L452.0 61.4 L451.4 61.4 L450.8 61.4 L450.1 61.5 L449.5 61.5 L448.9 61.6 L448.3 61.6 L447.7 61.6 L447.1 61.7 L446.5 61.7 L445.9 61.8 L445.3 61.9 L444.7 61.9 L444.1 62.0 L443.5 62.0 L442.9 62.1 L442.3 62.2 L441.7 62.2 L441.1 62.3 L440.5 62.4 L439.9 62.4 L439.3 62.5 L438.7 62.6 L438.1 62.7 L437.5 62.8 L436.9 62.9 L436.2 63.0 L435.6 63.1 L435.0 63.2 L434.3 63.3 L433.7 63.4 L433.1 63.6 L432.4 63.7 L431.8 63.8 L431.2 63.9 L430.5 64.0 L429.9 64.2 L429.3 64.3 L428.7 64.4 L428.1 64.5 L427.6 64.6 L427.0 64.7 L426.5 64.8 L425.9 64.9 L425.4 65.0 L425.0 65.1 L424.5 65.2 L424.1 65.3 L423.7 65.3 L423.3 65.4 L423.0 65.4 L422.6 65.5 L422.3 65.5 L422.0 65.5 L421.8 65.6 L421.5 65.6 L421.3 65.6 L421.0 65.7 L420.8 65.7 L420.6 65.7 L420.3 65.7 L420.1 65.7 L419.8 65.8 L419.6 65.8 L419.3 65.8 L419.0 65.9 L418.6 65.9 L418.3 66.0 L417.9 66.1 L417.5 66.1 L417.1 66.2 L416.6 66.3 L416.2 66.4 L415.7 66.5 L415.1 66.6 L414.6 66.7 L414.0 66.8 L413.5 66.9 L412.9 67.1 L412.3 67.2 L411.7 67.3 L411.0 67.5 L410.4 67.6 L409.8 67.7 L409.2 67.9 L408.5 68.0 L407.9 68.1 L407.2 68.3 L406.6 68.4 L406.0 68.6 L405.3 68.7 L404.7 68.8 L404.1 69.0 L403.5 69.1 L402.9 69.2 L402.3 69.3 L401.7 69.4 L401.1 69.6 L400.5 69.7 L400.0 69.8 L399.4 69.9 L398.8 70.0 L398.2 70.2 L397.6 70.3 L397.0 70.4 L396.4 70.5 L395.9 70.6 L395.3 70.8 L394.7 70.9 L394.1 71.0 L393.5 71.1 L392.9 71.2 L392.3 71.3 L391.7 71.4 L391.1 71.5 L390.5 71.6 L389.9 71.7 L389.3 71.8 L388.7 71.9 L388.1 72.0 L387.5 72.1 L386.9 72.1 L386.2 72.2 L385.6 72.3 L385.0 72.4 L384.4 72.4 L383.8 72.5 L383.1 72.6 L382.5 72.6 L381.9 72.7 L381.2 72.8 L380.6 72.8 L380.0 72.9 L379.4 72.9 L378.7 73.0 L378.1 73.0 L377.5 73.1 L376.8 73.1 L376.2 73.2 L375.6 73.2 L375.0 73.3 L374.3 73.3 L373.7 73.4 L373.1 73.5 L372.4 73.5 L371.8 73.6 L371.2 73.6 L370.6 73.7 L369.9 73.7 L369.3 73.8 L368.7 73.8 L368.1 73.8 L367.4 73.9 L366.8 73.9 L366.2 74.0 L365.6 74.0 L364.9 74.1 L364.3 74.1 L363.7 74.1 L363.1 74.2 L362.4 74.2 L361.8 74.2 L361.2 74.2 L360.6 74.3 L359.9 74.3 L359.3 74.3 L358.7 74.3 L358.1 74.3 L357.4 74.3 L356.8 74.3 L356.2 74.3 L355.6 74.2 L354.9 74.2 L354.3 74.2 L353.7 74.2 L353.0 74.1 L352.4 74.1 L351.8 74.0 L351.1 74.0 L350.5 74.0 L349.9 73.9 L349.2 73.9 L348.6 73.8 L348.0 73.8 L347.4 73.8 L346.7 73.7 L346.1 73.7 L345.5 73.7 L344.9 73.7 L344.3 73.7 L343.7 73.7 L343.1 73.7 L342.5 73.7 L341.9 73.7 L341.4 73.8 L340.8 73.8 L340.2 73.8 L339.7 73.8 L339.1 73.8 L338.6 73.9 L338.0 73.9 L337.5 73.9 L336.9 74.0 L336.4 74.0 L335.8 74.1 L335.2 74.1 L334.7 74.2 L334.1 74.2 L333.6 74.3 L333.0 74.3 L332.4 74.4 L331.8 74.5 L331.2 74.5 L330.6 74.6 L330.0 74.7 L329.4 74.8 L328.7 74.9 L328.1 75.0 L327.4 75.0 L326.8 75.1 L326.1 75.2 L325.4 75.3 L324.8 75.4 L324.1 75.5 L323.4 75.6 L322.7 75.7 L322.0 75.8 L321.3 76.0 L320.6 76.1 L320.0 76.2 L319.3 76.3 L318.6 76.5 L317.9 76.6 L317.2 76.8 L316.6 76.9 L315.9 77.1 L315.3 77.3 L314.6 77.4 L314.0 77.6 L313.4 77.8 L312.8 78.0 L312.1 78.2 L311.5 78.4 L310.9 78.6 L310.3 78.8 L309.7 79.1 L309.1 79.3 L308.5 79.5 L307.9 79.8 L307.3 80.0 L306.8 80.3 L306.2 80.5 L305.6 80.8 L305.0 81.0 L304.4 81.3 L303.9 81.6 L303.3 81.8 L302.8 82.1 L302.2 82.4 L301.6 82.6 L301.1 82.9 L300.5 83.1 L300.0 83.4 L299.5 83.7 L298.9 83.9 L298.4 84.2 L297.9 84.4 L297.4 84.7 L296.9 85.0 L296.4 85.2 L295.9 85.5 L295.4 85.8 L294.9 86.1 L294.4 86.3 L293.9 86.6 L293.4 86.9 L292.9 87.2 L292.4 87.4 L291.9 87.7 L291.4 88.0 L291.0 88.3 L290.5 88.6 L290.0 88.9 L289.5 89.1 L289.0 89.4 L288.5 89.7 L288.0 90.0 L287.5 90.3 L287.0 90.6 L286.5 90.9 L286.0 91.1 L285.5 91.4 L285.0 91.7 L284.5 92.0 L283.9 92.3 L283.4 92.6 L282.9 92.8 L282.4 93.1 L281.9 93.4 L281.4 93.7 L280.9 94.0 L280.4 94.3 L279.9 94.6 L279.4 94.9 L278.9 95.2 L278.4 95.5 L277.9 95.9 L277.4 96.2 L276.9 96.5 L276.5 96.9 L276.0 97.2 L275.5 97.6 L275.1 97.9 L274.6 98.3 L274.1 98.7 L273.6 99.1 L273.1 99.5 L272.7 100.0 L272.2 100.4 L271.7 100.8 L271.2 101.2 L270.8 101.7 L270.3 102.1 L269.8 102.5 L269.4 103.0 L269.0 103.4 Z" fill="#bcc3e2"/>
<g clip-path="url(#blueclip)">
<path d="M548.0 89.8 L548.5 90.1 L549.1 90.3 L549.6 90.6 L550.1 90.9 L550.7 91.1 L551.2 91.4 L551.7 91.7 L552.3 91.9 L552.8 92.2 L553.3 92.5 L553.9 92.7 L554.4 93.0 L554.9 93.2 L555.5 93.5 L556.0 93.8 L556.5 94.0 L557.0 94.3 L557.6 94.5 L558.1 94.8 L558.6 95.1 L559.2 95.3 L559.7 95.6 L560.2 95.8 L560.8 96.1 L561.3 96.4 L561.9 96.6 L562.4 96.9 L562.9 97.2 L563.5 97.4 L564.0 97.7 L564.6 98.0 L565.1 98.2 L565.7 98.5 L566.2 98.8 L566.8 99.0 L567.4 99.3 L567.9 99.6 L568.5 99.8 L569.0 100.1 L569.6 100.4 L570.1 100.6 L570.7 100.9 L571.2 101.2 L571.8 101.4 L572.3 101.7 L572.9 102.0 L573.4 102.2 L574.0 102.5 L574.5 102.8 L575.1 103.0 L575.6 103.3 L576.1 103.6 L576.7 103.8 L577.2 104.1 L577.7 104.4 L578.2 104.6 L578.8 104.9 L579.3 105.2 L579.8 105.4 L580.3 105.7 L580.8 106.0 L581.3 106.2 L581.9 106.5 L582.4 106.8 L582.9 107.0 L583.4 107.3 L583.9 107.6 L584.4 107.8 L585.0 108.1 L585.5 108.4 L586.0 108.6 L586.5 108.9 L587.0 109.2 L587.6 109.4 L588.1 109.7 L588.6 110.0 L589.2 110.2 L589.7 110.5 L590.2 110.7 L590.8 111.0 L591.3 111.2 L591.9 111.5 L592.4 111.7 L593.0 112.0 L593.5 112.2 L594.1 112.5 L594.6 112.8 L595.2 113.0 L595.7 113.3 L596.3 113.5 L596.8 113.8 L597.4 114.0 L597.9 114.3 L598.4 114.6 L599.0 114.9 L599.5 115.1 L600.1 115.4 L600.6 115.7 L601.1 116.0 L601.6 116.3 L602.1 116.6 L602.7 116.9 L603.2 117.2 L603.7 117.5 L604.2 117.9 L604.7 118.2 L605.2 118.5 L605.7 118.8 L606.2 119.2 L606.7 119.5 L607.2 119.9 L607.7 120.2 L608.2 120.5 L608.7 120.9 L609.2 121.2 L609.7 121.6 L610.2 121.9 L610.6 122.3 L611.1 122.6 L611.6 123.0 L612.1 123.3 L612.6 123.7 L613.1 124.0 L613.6 124.3 L614.1 124.7 L614.6 125.0 L615.1 125.4 L615.6 125.7 L616.1 126.1 L616.5 126.4 L617.0 126.8 L617.5 127.1 L618.0 127.5 L618.5 127.8 L619.0 128.2 L619.5 128.5 L620.0 128.9 L620.4 129.2 L620.9 129.6 L621.4 130.0 L621.9 130.3 L622.4 130.7 L622.8 131.1 L623.3 131.5 L623.8 131.8 L624.2 132.2 L624.7 132.6 L625.2 133.0 L625.6 133.4 L626.1 133.8 L626.5 134.2 L627.0 134.6 L627.5 135.0 L627.9 135.4 L628.4 135.8 L628.8 136.2 L629.3 136.6 L629.7 137.0 L630.2 137.4 L630.6 137.8 L631.0 138.2 L631.5 138.7 L631.9 139.1 L632.3 139.5 L632.8 139.9 L633.2 140.4 L633.6 140.8 L634.1 141.3 L634.5 141.7 L634.9 142.1 L635.3 142.6 L635.7 143.1 L636.1 143.5 L636.5 144.0 L636.9 144.5 L637.3 144.9 L637.7 145.4 L638.1 145.9 L638.5 146.4 L638.9 146.9 L639.2 147.4 L639.6 147.9 L640.0 148.3 L640.4 148.8 L640.7 149.3 L641.1 149.8 L641.5 150.3 L641.8 150.8 L642.2 151.3 L642.6 151.8 L642.9 152.3 L643.3 152.8 L643.7 153.3 L644.0 153.8 L644.4 154.3 L644.8 154.8 L645.1 155.3 L645.5 155.8 L645.8 156.2 L646.2 156.7 L646.6 157.2 L646.9 157.7 L647.3 158.2 L647.6 158.7 L648.0 159.1 L648.3 159.6 L648.6 160.1 L649.0 160.6 L649.3 161.1 L649.7 161.6 L650.0 162.0 L650.4 162.5 L650.7 163.0 L651.0 163.5 L651.4 164.0 L651.7 164.5 L652.0 164.9 L652.4 165.4 L652.7 165.9 L653.0 166.4 L653.4 166.9 L653.7 167.4 L654.0 167.8 L654.4 168.3 L654.7 168.8 L655.0 169.3 L655.4 169.8 L655.7 170.3 L656.1 170.7 L656.4 171.2 L656.7 171.7 L657.0 172.2 L657.4 172.7 L657.7 173.2 L658.0 173.6 L658.3 174.1 L658.6 174.6 L658.9 175.1 L659.2 175.6 L659.4 176.1 L659.7 176.5 L660.0 177.0 L660.2 177.5 L660.4 178.0 L660.7 178.5 L660.9 178.9 L661.1 179.4 L661.3 179.9 L661.5 180.3 L661.7 180.8 L661.9 181.3 L662.0 181.7 L662.2 182.2 L662.4 182.7 L662.5 183.1 L662.7 183.6 L662.9 184.1 L663.0 184.5 L663.2 185.0 L663.3 185.5 L663.4 186.0 L663.6 186.5 L663.7 187.0 L663.9 187.5 L664.0 188.0 L664.2 188.5 L664.3 189.0 L664.4 189.5 L664.6 190.1 L664.7 190.6 L664.9 191.1 L665.0 191.7 L665.1 192.2 L665.3 192.8 L665.4 193.3 L665.5 193.9 L665.7 194.4 L665.8 195.0 L665.9 195.6 L666.0 196.2 L666.1 196.7 L666.2 197.3 L666.4 197.9 L666.5 198.5 L666.6 199.0 L666.7 199.6 L666.8 200.2 L666.8 200.8 L666.9 201.3 L667.0 201.9 L667.1 202.5 L667.2 203.1 L667.2 203.7 L667.3 204.2 L667.4 204.8 L667.4 205.4 L667.5 206.0 L667.5 206.6 L667.6 207.2 L667.6 207.8 L667.6 208.4 L667.7 209.0 L667.7 209.6 L667.7 210.1 L667.7 210.7 L667.8 211.3 L667.8 211.9 L667.8 212.5 L667.8 213.1 L667.9 213.7 L667.9 214.3 L667.9 214.9 L667.9 215.5 L668.0 216.1 L668.0 216.7 L668.0 217.3 L668.1 217.9 L668.1 218.5 L668.1 219.1 L668.2 219.7 L668.2 220.3 L668.2 220.9 L668.2 221.5 L668.3 222.1 L668.3 222.7 L668.3 223.3 L668.3 223.9 L668.4 224.5 L668.4 225.1 L668.4 225.7 L668.4 226.3 L668.5 226.8 L668.5 227.4 L668.5 228.0 L668.5 228.6 L668.5 229.2 L668.6 229.8 L668.6 230.4 L668.6 231.0 L668.6 231.6 L668.6 232.2 L668.6 232.8 L668.7 233.4 L668.7 233.9 L668.7 234.5 L668.7 235.1 L668.7 235.7 L668.7 236.3 L668.7 236.9 L668.7 237.5 L668.7 238.0 L668.8 238.6 L668.8 239.2 L668.8 239.8 L668.8 240.4 L668.8 240.9 L668.8 241.5 L668.8 242.1 L668.8 242.7 L668.8 243.3 L668.8 243.8 L668.8 244.4 L668.8 245.0 L668.8 245.6 L668.8 246.2 L668.8 246.7 L668.8 247.3 L668.8 247.9 L668.8 248.4 L668.8 249.0 L668.8 249.6 L668.8 250.2 L668.8 250.7 L668.8 251.3 L668.8 251.9 L668.8 252.4 L668.8 253.0 L668.8 253.6 L668.8 254.1 L668.8 254.7 L668.8 255.3 L668.8 255.8 L668.7 256.4 L668.7 257.0 L668.7 257.6 L668.7 258.1 L668.7 258.7 L668.7 259.3 L668.7 259.8 L668.7 260.4 L668.7 261.0 L668.6 261.6 L668.6 262.1 L668.6 262.7 L668.6 263.3 L668.6 263.9 L668.6 264.4 L668.5 265.0 L668.5 265.6 L668.5 266.2 L668.5 266.7 L668.5 267.3 L668.4 267.9 L668.4 268.5 L668.4 269.0 L668.4 269.6 L668.3 270.2 L668.3 270.8 L668.3 271.3 L668.2 271.9 L668.2 272.5 L668.2 273.1 L668.1 273.6 L668.1 274.2 L668.0 274.8 L668.0 275.4 L668.0 275.9 L667.9 276.5 L667.9 277.1 L667.8 277.7 L667.8 278.2 L667.7 278.8 L667.7 279.4 L667.6 279.9 L667.6 280.5 L667.5 281.1 L667.4 281.7 L667.4 282.2 L667.3 282.8 L667.2 283.4 L667.2 284.0 L667.1 284.6 L667.0 285.1 L666.9 285.7 L666.8 286.3 L666.7 286.9 L666.6 287.5 L666.5 288.1 L666.4 288.7 L666.2 289.3 L666.1 289.9 L666.0 290.5 L665.8 291.1 L665.7 291.7 L665.6 292.3 L665.4 292.9 L665.3 293.5 L665.1 294.1 L665.0 294.8" fill="none" stroke="#a8afda" stroke-width="17" opacity="0.9" stroke-linecap="round"/>
<path d="M547.2 78.7 C552 81 556 82.5 560 84 C565 86 570 87.5 575 89.2 C580 91 585 92.8 590 94.5 C594 96 598 97.5 602 99 C605 100.5 608 102 610.9 103.4 C613 104.5 615.5 105.5 616.9 106.4 C618.5 108 619.3 109.5 619.9 110.9 C621 114 621.8 117 622.9 120 C625.5 123.5 628.5 126 631.9 128.9 C635 132.5 638 136 640 140 L636 143 C632 138 628 135 625 133 L613 124 L601 116 L588 109.7 L575.6 103.3 L562.4 96.9 L549.6 90.6 L545 88 Z" fill="#a6add9"/>
<path d="M590 77 C596 80 602 83.5 606 86.5 C609 89 611 91 611.5 93 C607 91 602 88.5 598 86 Z" fill="#a0a8d6"/>
<path d="M666 172 C672 180 678 192 681 205 C683 220 682 240 680.5 255 C679.5 270 679 285 675 293 C671 300 667 305 662 310 L660 300 Z" fill="#a3abd8"/>
<path d="M322 50.2 C326 47 330 45 335 43 C345 39.5 352 38.2 359.4 38 C367 38 375 38.5 380 39.5 C386 40.5 390 42 393 43 C390 44 387 44.2 383 44.8 C375 45.6 368 46.5 362.5 47.9 C356 48.8 350 49.3 347.2 49.4 C340 49.8 335 50 322 50.2 Z" fill="#c9cee9"/>
<path d="M289.2 70.8 C295 65 300 61.5 303 60.1 C309 56.5 314 54.5 318.2 53.3 C326 52.5 332 52.3 338 52.5 C344 52.7 348 52.9 351.8 53.3 C356 54 360 55 362.5 56.3 C365 58 367 60 367.1 61.7 C364 63.5 361 64.8 359.4 65.5 C354 66.2 349 66.6 344.2 67 C337 67.6 331 68 325.8 68.5 C320 69.3 315 70 310.5 70.8 C305 71.8 301 72.8 298.3 73.9 Z" fill="#c6cbe8"/>
<path d="M415 41 C430 37 440 33 452 30 C462 28.5 470 29 478 31.5 C488 35 495 38 503 40 C490 41.5 470 42 450 43 C440 43.5 428 43 415 41 Z" fill="#c8cce8" opacity="0.8"/>
<polygon points="350.3,53.4 366.6,54.2 381.2,51 394.3,42.8 404,43.6 395.9,48.5 387.8,55 412.2,58.3 387.8,60 366.6,64 361.7,59.1" fill="#a4abd8"/>
<path d="M285 80 C295 66 305 58 318 52" fill="none" stroke="#dfe2f3" stroke-width="2" opacity="0.9"/>
<path d="M330 47 C345 40 360 38 378 37.5" fill="none" stroke="#d4d8ef" stroke-width="2.5" opacity="0.9"/>
<path d="M424 39 C440 33 450 28 462 27 C470 27 476 30 480 32" fill="none" stroke="#d4d8ef" stroke-width="2.5" opacity="0.9"/>
<path d="M505 40.5 C525 42.5 545 45 556 50" fill="none" stroke="#d4d8ef" stroke-width="2.5" opacity="0.9"/>
<path d="M612 86 C630 92 648 100 662 112" fill="none" stroke="#dfe2f3" stroke-width="2.5" opacity="0.9"/>
</g>
<path d="M265.0 99.0 C266.6 97.2 271.2 91.9 274.5 87.9 C277.8 84.0 281.7 79.0 285.0 75.3 C288.3 71.6 291.0 68.8 294.5 66.0 C298.0 63.2 302.0 60.9 306.0 58.5 C310.0 56.1 314.5 53.8 318.5 51.5 C322.5 49.2 326.5 46.8 329.9 44.8 C333.3 42.8 336.0 40.8 338.9 39.5 C341.8 38.2 344.3 37.7 347.0 37.0 C349.7 36.3 351.2 35.8 355.0 35.2 C358.8 34.7 365.8 33.9 370.0 33.7 C374.2 33.5 377.2 33.7 380.4 34.2 C383.6 34.7 386.1 35.8 389.4 36.7 C392.6 37.6 396.9 39.0 399.9 39.7 C402.9 40.5 404.9 41.2 407.4 41.2 C409.9 41.2 412.1 40.6 414.9 39.7 C417.6 38.8 421.4 36.9 423.9 36.0 C426.4 35.1 427.1 35.3 430.0 34.2 C432.9 33.1 437.4 31.2 441.2 29.6 C444.9 28.0 449.1 25.6 452.5 24.6 C455.9 23.6 458.7 23.4 461.5 23.4 C464.3 23.4 466.1 23.6 469.3 24.6 C472.5 25.6 476.9 27.9 480.6 29.6 C484.4 31.3 488.1 33.5 491.8 34.7 C495.5 35.9 499.2 36.2 503.0 36.9 C506.8 37.5 511.0 38.2 514.3 38.6 C517.5 39.0 518.6 39.0 522.5 39.5 C526.4 40.0 532.9 40.5 537.4 41.5 C541.9 42.5 545.6 43.5 549.4 45.2 C553.1 47.0 556.6 49.4 559.9 52.0 C563.1 54.6 566.2 58.5 568.9 61.0 C571.6 63.5 573.3 64.5 576.0 66.7 C578.7 68.9 581.5 72.1 585.0 74.2 C588.5 76.3 593.0 78.0 597.0 79.5 C601.0 81.0 604.9 81.8 608.9 83.2 C612.9 84.6 616.9 86.1 620.9 87.7 C624.9 89.3 628.9 91.1 632.9 93.0 C636.9 94.9 641.1 96.9 644.9 98.9 C648.6 100.9 652.7 103.1 655.4 104.9 C658.1 106.7 658.6 107.2 661.0 109.5 C663.4 111.8 667.4 115.7 669.9 119.0 C672.4 122.3 674.1 126.0 675.9 129.5 C677.6 133.0 679.1 136.3 680.4 140.0 C681.6 143.7 682.6 147.4 683.4 151.9 C684.1 156.4 684.6 161.4 684.9 166.9 C685.2 172.4 685.3 180.3 685.3 185.0 C685.3 189.7 685.0 190.8 684.7 195.0 C684.4 199.2 684.1 205.0 683.7 210.0 C683.3 215.0 682.8 220.0 682.2 225.0 C681.6 230.0 680.8 234.2 680.3 240.0 C679.8 245.8 679.6 254.2 679.5 260.0 C679.4 265.8 679.9 270.8 679.7 275.0 C679.5 279.2 679.0 282.4 678.5 285.0 C678.0 287.6 677.9 288.0 676.9 290.4 C675.9 292.8 673.9 296.6 672.4 299.4 C670.9 302.2 669.5 304.4 667.9 307.0 C666.3 309.6 663.8 313.7 663.0 315.0" fill="none" stroke="#23252e" stroke-width="1.4"/>
<path d="M321 50.1 C330 48.5 340 48.6 348.7 49.3" fill="none" stroke="#2a2c36" stroke-width="1"/>
<path d="M352 49.6 L357 48.6" fill="none" stroke="#2a2c36" stroke-width="1"/>
<path d="M407.3 44.4 C411 42 415 40 419 38.5" fill="none" stroke="#2a2c36" stroke-width="1.1"/>
<path d="M578 70 C585 76 590 80 596.2 84" fill="none" stroke="#2a2c36" stroke-width="1.1"/>
<path d="M598 85.5 L603.7 89.6" fill="none" stroke="#2a2c36" stroke-width="1"/>
<path d="M676.4 227.7 C677.5 240 678.8 258 679.3 272" fill="none" stroke="#2a2c36" stroke-width="1.1"/>
<path d="M218.0 222.0 C218.0 217.3 218.1 212.2 218.4 208.0 C218.7 203.8 218.9 201.5 219.6 197.0 C220.3 192.5 220.8 186.7 222.5 181.0 C224.2 175.3 227.2 168.5 229.5 163.0 C231.8 157.5 234.3 151.9 236.2 147.8 C238.0 143.8 238.8 141.8 240.6 138.7 C242.4 135.5 245.5 131.5 247.3 128.9 C249.2 126.3 250.2 125.1 251.7 123.2 C253.2 121.3 254.7 119.3 256.2 117.5 C257.7 115.7 259.1 114.0 260.7 112.2 C262.2 110.4 262.9 109.3 265.5 106.8 C268.1 104.3 272.2 100.0 276.0 97.2 C279.8 94.4 284.0 92.3 288.0 90.0 C292.0 87.7 295.7 85.5 300.0 83.4 C304.3 81.3 309.0 79.0 314.0 77.6 C319.0 76.1 325.1 75.3 330.0 74.7 C334.9 74.1 338.9 73.8 343.7 73.7 C348.5 73.6 353.7 74.3 358.7 74.3 C363.7 74.2 368.7 73.8 373.7 73.4 C378.7 73.0 383.8 72.6 388.7 71.9 C393.6 71.2 398.2 70.2 402.9 69.2 C407.6 68.2 413.5 66.9 417.1 66.2 C420.7 65.5 420.9 65.8 424.5 65.2 C428.1 64.6 433.9 63.2 438.7 62.6 C443.5 62.0 448.3 61.5 453.2 61.3 C458.1 61.0 463.2 60.8 468.2 61.1 C473.1 61.4 477.9 61.9 482.9 62.9 C487.8 63.9 493.3 65.5 497.9 67.0 C502.5 68.5 506.2 70.2 510.5 71.9 C514.8 73.6 519.3 75.4 523.7 77.4 C528.1 79.4 532.4 81.8 536.7 84.0 C541.0 86.2 545.3 88.4 549.6 90.6 C553.9 92.8 558.1 94.8 562.4 96.9 C566.7 99.0 571.3 101.2 575.6 103.3 C579.9 105.4 583.9 107.6 588.1 109.7 C592.4 111.8 596.9 113.6 601.1 116.0 C605.3 118.4 609.2 121.2 613.1 124.0 C617.0 126.8 621.0 129.5 624.7 132.6 C628.4 135.7 632.0 139.0 635.3 142.6 C638.6 146.2 641.5 150.4 644.4 154.3 C647.3 158.2 650.1 162.0 652.7 165.9 C655.3 169.8 658.3 173.7 660.2 177.5 C662.1 181.3 663.1 184.8 664.3 189.0 C665.4 193.2 666.5 197.9 667.1 202.5 C667.7 207.1 667.8 211.9 668.0 216.7 C668.2 221.4 668.5 226.3 668.6 231.0 C668.7 235.7 668.8 240.4 668.8 245.0 C668.8 249.6 668.8 254.1 668.7 258.7 C668.6 263.3 668.5 267.9 668.2 272.5 C667.9 277.1 667.6 281.6 666.8 286.3 C666.0 291.0 664.6 296.2 663.4 300.6 C662.2 305.1 661.1 308.8 659.5 313.0 C657.9 317.2 656.0 320.4 653.5 326.0 C651.0 331.6 647.3 341.1 644.7 346.3 C642.1 351.6 641.3 352.9 638.0 357.5 C634.7 362.1 628.9 369.5 625.0 374.0 C621.1 378.5 618.0 381.5 614.8 384.5 C611.6 387.5 609.2 389.5 605.7 392.2 C602.2 394.9 598.2 398.3 594.0 400.6 C589.8 402.9 584.8 404.4 580.2 405.9 C575.6 407.3 571.0 408.4 566.3 409.3 C561.5 410.2 556.6 410.8 551.7 411.0 C546.8 411.2 541.8 411.1 537.0 410.7 C532.2 410.3 527.4 409.5 522.7 408.4 C518.0 407.3 513.3 405.7 508.6 404.2 C503.9 402.7 499.1 401.1 494.6 399.3 C490.1 397.5 486.1 395.4 481.6 393.6 C477.2 391.8 472.5 389.9 467.9 388.4 C463.3 386.9 458.8 385.9 454.2 384.8 C449.6 383.7 444.9 382.7 440.1 381.9 C435.3 381.1 430.3 380.6 425.4 380.1 C420.5 379.6 415.7 379.5 410.9 379.1 C406.1 378.7 401.3 378.2 396.5 377.8 C391.7 377.4 386.7 377.2 381.9 376.8 C377.1 376.4 372.3 375.9 367.5 375.4 C362.7 374.9 357.8 374.4 353.0 373.9 C348.2 373.4 343.4 373.1 338.5 372.6 C333.6 372.1 328.3 371.8 323.3 370.8 C318.3 369.8 313.2 368.2 308.5 366.7 C303.8 365.2 299.2 363.5 294.9 361.6 C290.6 359.7 286.6 357.8 282.6 355.4 C278.6 353.0 274.7 350.1 271.0 347.1 C267.3 344.1 263.6 340.8 260.2 337.4 C256.8 334.0 253.9 330.4 250.9 326.6 C247.9 322.9 244.6 318.9 242.1 314.9 C239.6 310.8 237.9 306.5 235.9 302.3 C233.9 298.1 231.8 294.1 230.2 289.8 C228.6 285.5 227.7 281.2 226.4 276.7 C225.1 272.2 223.7 267.2 222.6 262.7 C221.5 258.2 220.7 254.0 220.0 249.6 C219.3 245.2 218.5 240.6 218.2 236.0 C217.9 231.4 218.0 226.7 218.0 222.0 Z" fill="#f8ef8c"/>
<g clip-path="url(#cellclip)">
<path d="M259.5 153.0 C263.3 145.2 265.8 142.8 270.0 139.0 C274.2 135.2 280.0 132.5 285.0 130.0 C290.0 127.5 292.1 126.7 300.0 124.0 C307.9 121.3 321.8 116.3 332.6 113.8 C343.4 111.3 354.1 110.4 365.0 109.0 C375.9 107.6 387.2 107.0 398.0 105.6 C408.8 104.2 419.2 101.9 430.0 100.7 C440.8 99.5 452.1 98.6 463.0 98.4 C473.9 98.2 484.7 98.6 495.5 99.8 C506.3 101.0 517.1 103.0 528.0 105.6 C538.9 108.2 549.8 111.3 560.7 115.4 C571.6 119.5 583.4 124.6 593.3 130.0 C603.2 135.4 612.2 141.8 620.0 148.0 C627.8 154.2 634.7 160.0 640.0 167.0 C645.3 174.0 649.0 182.0 652.0 190.0 C655.0 198.0 656.5 205.0 658.0 215.0 C659.5 225.0 660.0 238.3 661.0 250.0 C662.0 261.7 659.2 273.3 664.0 285.0 C668.8 296.7 685.7 292.5 690.0 320.0 C694.3 347.5 755.0 428.3 690.0 450.0 C625.0 471.7 369.0 465.7 300.0 450.0 C231.0 434.3 281.8 375.7 276.0 356.0 C270.2 336.3 269.0 340.2 265.0 332.0 C261.0 323.8 255.3 316.5 252.0 307.0 C248.7 297.5 246.4 285.5 245.0 275.0 C243.6 264.5 243.8 253.3 243.5 244.0 C243.2 234.7 242.4 228.7 243.0 219.0 C243.6 209.3 244.2 197.0 247.0 186.0 C249.8 175.0 255.7 160.8 259.5 153.0 Z" fill="#f8f9a6" filter="url(#blur3)"/>
<ellipse cx="582" cy="318" rx="125" ry="115" fill="url(#glow)"/>
<path d="M641.4 321.0 L641.0 321.7 L640.5 322.5 L639.9 323.5 L639.3 324.6 L638.6 325.7 L637.8 327.0 L637.0 328.3 L636.2 329.7 L635.4 331.1 L634.6 332.5 L633.8 333.9 L633.0 335.3 L632.2 336.7 L631.4 338.2 L630.6 339.7 L629.8 341.3 L629.0 342.9 L628.2 344.5 L627.3 346.1 L626.5 347.7 L625.6 349.3 L624.7 350.9 L623.8 352.4 L622.9 353.8 L622.0 355.2 L621.1 356.6 L620.1 357.9 L619.2 359.2 L618.2 360.5 L617.3 361.8 L616.3 363.1 L615.3 364.3 L614.2 365.5 L613.2 366.7 L612.1 367.9 L611.0 369.0 L609.9 370.1 L608.7 371.2 L607.6 372.3 L606.4 373.3 L605.2 374.3 L604.0 375.3 L602.7 376.3 L601.4 377.2 L600.1 378.2 L598.8 379.1 L597.4 379.9 L595.9 380.8 L594.4 381.6 L592.8 382.5 L591.2 383.3 L589.6 384.0 L587.9 384.8 L586.2 385.5 L584.4 386.2 L582.7 386.9 L580.9 387.6 L579.1 388.2 L577.4 388.8 L575.6 389.3 L573.8 389.8 L572.1 390.3 L570.3 390.7 L568.5 391.1 L566.7 391.5 L564.9 391.9 L563.0 392.2 L561.2 392.5 L559.3 392.8 L557.5 393.0 L555.6 393.3 L553.7 393.5 L551.7 393.7 L549.6 393.8 L547.3 394.0 L545.1 394.0 L542.8 394.1 L540.5 394.2 L538.3 394.2 L536.2 394.2 L534.3 394.2 L532.6 394.3 L531.2 394.3 L530.0 394.3 L530.0 394.3 L531.1 393.7 L532.6 393.4 L534.3 393.2 L536.2 393.0 L538.3 392.8 L540.5 392.6 L542.7 392.4 L545.0 392.2 L547.3 392.0 L549.5 391.8 L551.5 391.5 L553.5 391.2 L555.3 390.9 L557.2 390.6 L559.0 390.3 L560.8 389.9 L562.6 389.5 L564.4 389.2 L566.1 388.7 L567.9 388.3 L569.6 387.8 L571.3 387.4 L573.0 386.8 L574.7 386.3 L576.4 385.7 L578.1 385.1 L579.8 384.5 L581.5 383.8 L583.2 383.1 L584.9 382.4 L586.5 381.6 L588.1 380.9 L589.7 380.1 L591.2 379.3 L592.7 378.5 L594.1 377.7 L595.5 376.9 L596.8 376.1 L598.1 375.2 L599.3 374.3 L600.6 373.4 L601.7 372.5 L602.9 371.6 L604.0 370.6 L605.2 369.6 L606.3 368.6 L607.4 367.6 L608.5 366.5 L609.6 365.4 L610.6 364.3 L611.6 363.2 L612.6 362.1 L613.6 360.9 L614.6 359.7 L615.5 358.5 L616.5 357.3 L617.4 356.0 L618.4 354.7 L619.3 353.4 L620.3 352.1 L621.2 350.7 L622.1 349.3 L623.0 347.9 L623.9 346.3 L624.8 344.8 L625.7 343.2 L626.6 341.6 L627.5 340.1 L628.4 338.5 L629.3 337.0 L630.1 335.6 L631.0 334.2 L631.9 332.8 L632.8 331.5 L633.7 330.1 L634.7 328.8 L635.6 327.4 L636.5 326.2 L637.4 325.0 L638.2 323.9 L639.0 322.9 L639.8 322.1 L640.5 321.4 L641.4 321.0 Z" fill="#ffffff" opacity="0.95"/>
</g>
<path d="M218.0 222.0 C218.0 217.3 218.1 212.2 218.4 208.0 C218.7 203.8 218.9 201.5 219.6 197.0 C220.3 192.5 220.8 186.7 222.5 181.0 C224.2 175.3 227.2 168.5 229.5 163.0 C231.8 157.5 234.3 151.9 236.2 147.8 C238.0 143.8 238.8 141.8 240.6 138.7 C242.4 135.5 245.5 131.5 247.3 128.9 C249.2 126.3 250.2 125.1 251.7 123.2 C253.2 121.3 254.7 119.3 256.2 117.5 C257.7 115.7 259.1 114.0 260.7 112.2 C262.2 110.4 262.9 109.3 265.5 106.8 C268.1 104.3 272.2 100.0 276.0 97.2 C279.8 94.4 284.0 92.3 288.0 90.0 C292.0 87.7 295.7 85.5 300.0 83.4 C304.3 81.3 309.0 79.0 314.0 77.6 C319.0 76.1 325.1 75.3 330.0 74.7 C334.9 74.1 338.9 73.8 343.7 73.7 C348.5 73.6 353.7 74.3 358.7 74.3 C363.7 74.2 368.7 73.8 373.7 73.4 C378.7 73.0 383.8 72.6 388.7 71.9 C393.6 71.2 398.2 70.2 402.9 69.2 C407.6 68.2 413.5 66.9 417.1 66.2 C420.7 65.5 420.9 65.8 424.5 65.2 C428.1 64.6 433.9 63.2 438.7 62.6 C443.5 62.0 448.3 61.5 453.2 61.3 C458.1 61.0 463.2 60.8 468.2 61.1 C473.1 61.4 477.9 61.9 482.9 62.9 C487.8 63.9 493.3 65.5 497.9 67.0 C502.5 68.5 506.2 70.2 510.5 71.9 C514.8 73.6 519.3 75.4 523.7 77.4 C528.1 79.4 532.4 81.8 536.7 84.0 C541.0 86.2 545.3 88.4 549.6 90.6 C553.9 92.8 558.1 94.8 562.4 96.9 C566.7 99.0 571.3 101.2 575.6 103.3 C579.9 105.4 583.9 107.6 588.1 109.7 C592.4 111.8 596.9 113.6 601.1 116.0 C605.3 118.4 609.2 121.2 613.1 124.0 C617.0 126.8 621.0 129.5 624.7 132.6 C628.4 135.7 632.0 139.0 635.3 142.6 C638.6 146.2 641.5 150.4 644.4 154.3 C647.3 158.2 650.1 162.0 652.7 165.9 C655.3 169.8 658.3 173.7 660.2 177.5 C662.1 181.3 663.1 184.8 664.3 189.0 C665.4 193.2 666.5 197.9 667.1 202.5 C667.7 207.1 667.8 211.9 668.0 216.7 C668.2 221.4 668.5 226.3 668.6 231.0 C668.7 235.7 668.8 240.4 668.8 245.0 C668.8 249.6 668.8 254.1 668.7 258.7 C668.6 263.3 668.5 267.9 668.2 272.5 C667.9 277.1 667.6 281.6 666.8 286.3 C666.0 291.0 664.6 296.2 663.4 300.6 C662.2 305.1 661.1 308.8 659.5 313.0 C657.9 317.2 656.0 320.4 653.5 326.0 C651.0 331.6 647.3 341.1 644.7 346.3 C642.1 351.6 641.3 352.9 638.0 357.5 C634.7 362.1 628.9 369.5 625.0 374.0 C621.1 378.5 618.0 381.5 614.8 384.5 C611.6 387.5 609.2 389.5 605.7 392.2 C602.2 394.9 598.2 398.3 594.0 400.6 C589.8 402.9 584.8 404.4 580.2 405.9 C575.6 407.3 571.0 408.4 566.3 409.3 C561.5 410.2 556.6 410.8 551.7 411.0 C546.8 411.2 541.8 411.1 537.0 410.7 C532.2 410.3 527.4 409.5 522.7 408.4 C518.0 407.3 513.3 405.7 508.6 404.2 C503.9 402.7 499.1 401.1 494.6 399.3 C490.1 397.5 486.1 395.4 481.6 393.6 C477.2 391.8 472.5 389.9 467.9 388.4 C463.3 386.9 458.8 385.9 454.2 384.8 C449.6 383.7 444.9 382.7 440.1 381.9 C435.3 381.1 430.3 380.6 425.4 380.1 C420.5 379.6 415.7 379.5 410.9 379.1 C406.1 378.7 401.3 378.2 396.5 377.8 C391.7 377.4 386.7 377.2 381.9 376.8 C377.1 376.4 372.3 375.9 367.5 375.4 C362.7 374.9 357.8 374.4 353.0 373.9 C348.2 373.4 343.4 373.1 338.5 372.6 C333.6 372.1 328.3 371.8 323.3 370.8 C318.3 369.8 313.2 368.2 308.5 366.7 C303.8 365.2 299.2 363.5 294.9 361.6 C290.6 359.7 286.6 357.8 282.6 355.4 C278.6 353.0 274.7 350.1 271.0 347.1 C267.3 344.1 263.6 340.8 260.2 337.4 C256.8 334.0 253.9 330.4 250.9 326.6 C247.9 322.9 244.6 318.9 242.1 314.9 C239.6 310.8 237.9 306.5 235.9 302.3 C233.9 298.1 231.8 294.1 230.2 289.8 C228.6 285.5 227.7 281.2 226.4 276.7 C225.1 272.2 223.7 267.2 222.6 262.7 C221.5 258.2 220.7 254.0 220.0 249.6 C219.3 245.2 218.5 240.6 218.2 236.0 C217.9 231.4 218.0 226.7 218.0 222.0 Z" fill="none" stroke="#858dc6" stroke-width="5.8"/>
<g fill="#f8f08a" stroke="#2f2b14" stroke-width="0.95"><circle cx="213.9" cy="222.0" r="2.8"/><circle cx="214.0" cy="214.6" r="2.8"/><circle cx="214.3" cy="207.2" r="2.8"/><circle cx="215.1" cy="199.6" r="2.8"/><circle cx="216.1" cy="192.4" r="2.8"/><circle cx="217.3" cy="185.0" r="2.8"/><circle cx="219.3" cy="177.4" r="2.8"/><circle cx="222.0" cy="170.4" r="2.8"/><circle cx="224.8" cy="163.6" r="2.8"/><circle cx="227.6" cy="156.9" r="2.8"/><circle cx="230.6" cy="150.2" r="2.8"/><circle cx="233.6" cy="143.5" r="2.8"/><circle cx="237.1" cy="136.6" r="2.8"/><circle cx="241.3" cy="130.2" r="2.8"/><circle cx="245.7" cy="124.2" r="2.8"/><circle cx="250.2" cy="118.5" r="2.8"/><circle cx="254.9" cy="112.7" r="2.8"/><circle cx="259.6" cy="107.1" r="2.8"/><circle cx="264.9" cy="101.6" r="2.8"/><circle cx="270.4" cy="96.5" r="2.8"/><circle cx="276.7" cy="91.7" r="2.8"/><circle cx="283.2" cy="88.0" r="2.8"/><circle cx="289.5" cy="84.4" r="2.8"/><circle cx="296.1" cy="80.8" r="2.8"/><circle cx="302.8" cy="77.5" r="2.8"/><circle cx="309.9" cy="74.6" r="2.8"/><circle cx="317.4" cy="72.5" r="2.8"/><circle cx="324.8" cy="71.3" r="2.8"/><circle cx="332.2" cy="70.3" r="2.8"/><circle cx="339.7" cy="69.7" r="2.8"/><circle cx="347.4" cy="69.7" r="2.8"/><circle cx="354.7" cy="70.1" r="2.8"/><circle cx="361.6" cy="70.1" r="2.8"/><circle cx="368.7" cy="69.7" r="2.8"/><circle cx="375.9" cy="69.1" r="2.8"/><circle cx="383.1" cy="68.5" r="2.8"/><circle cx="390.1" cy="67.5" r="2.8"/><circle cx="397.1" cy="66.2" r="2.8"/><circle cx="404.2" cy="64.7" r="2.8"/><circle cx="411.3" cy="63.2" r="2.8"/><circle cx="418.8" cy="61.8" r="2.8"/><circle cx="425.8" cy="60.8" r="2.8"/><circle cx="432.9" cy="59.4" r="2.8"/><circle cx="440.4" cy="58.3" r="2.8"/><circle cx="447.8" cy="57.5" r="2.8"/><circle cx="455.2" cy="57.1" r="2.8"/><circle cx="462.7" cy="56.9" r="2.8"/><circle cx="470.2" cy="57.1" r="2.8"/><circle cx="477.8" cy="57.9" r="2.8"/><circle cx="485.3" cy="59.2" r="2.8"/><circle cx="492.6" cy="61.1" r="2.8"/><circle cx="499.7" cy="63.3" r="2.8"/><circle cx="506.8" cy="65.9" r="2.8"/><circle cx="513.5" cy="68.7" r="2.8"/><circle cx="520.3" cy="71.4" r="2.8"/><circle cx="527.1" cy="74.5" r="2.8"/><circle cx="533.8" cy="77.8" r="2.8"/><circle cx="540.2" cy="81.2" r="2.8"/><circle cx="546.7" cy="84.5" r="2.8"/><circle cx="553.1" cy="87.8" r="2.8"/><circle cx="559.6" cy="91.0" r="2.8"/><circle cx="566.2" cy="94.2" r="2.8"/><circle cx="572.7" cy="97.3" r="2.8"/><circle cx="579.3" cy="100.6" r="2.8"/><circle cx="585.8" cy="103.9" r="2.8"/><circle cx="592.2" cy="107.1" r="2.8"/><circle cx="598.9" cy="110.2" r="2.8"/><circle cx="605.6" cy="113.9" r="2.8"/><circle cx="611.9" cy="118.1" r="2.8"/><circle cx="617.8" cy="122.3" r="2.8"/><circle cx="623.8" cy="126.7" r="2.8"/><circle cx="629.7" cy="131.5" r="2.8"/><circle cx="635.2" cy="136.6" r="2.8"/><circle cx="640.4" cy="142.3" r="2.8"/><circle cx="645.0" cy="148.2" r="2.8"/><circle cx="649.3" cy="154.1" r="2.8"/><circle cx="653.6" cy="160.1" r="2.8"/><circle cx="657.8" cy="166.1" r="2.8"/><circle cx="662.0" cy="172.3" r="2.8"/><circle cx="665.6" cy="179.5" r="2.8"/><circle cx="667.9" cy="186.8" r="2.8"/><circle cx="669.8" cy="194.1" r="2.8"/><circle cx="671.1" cy="201.6" r="2.8"/><circle cx="671.8" cy="209.2" r="2.8"/><circle cx="672.1" cy="216.4" r="2.8"/><circle cx="672.4" cy="223.8" r="2.8"/><circle cx="672.7" cy="231.1" r="2.8"/><circle cx="672.8" cy="238.4" r="2.8"/><circle cx="672.9" cy="245.8" r="2.8"/><circle cx="672.9" cy="253.1" r="2.8"/><circle cx="672.8" cy="260.4" r="2.8"/><circle cx="672.6" cy="267.8" r="2.8"/><circle cx="672.1" cy="275.2" r="2.8"/><circle cx="671.5" cy="282.6" r="2.8"/><circle cx="670.2" cy="290.2" r="2.8"/><circle cx="668.5" cy="297.5" r="2.8"/><circle cx="666.6" cy="304.6" r="2.8"/><circle cx="664.3" cy="311.8" r="2.8"/><circle cx="661.4" cy="318.9" r="2.8"/><circle cx="658.3" cy="325.5" r="2.8"/><circle cx="655.4" cy="332.0" r="2.8"/><circle cx="652.6" cy="338.7" r="2.8"/><circle cx="649.6" cy="345.5" r="2.8"/><circle cx="646.3" cy="352.3" r="2.8"/><circle cx="642.1" cy="358.8" r="2.8"/><circle cx="637.7" cy="364.8" r="2.8"/><circle cx="633.1" cy="370.6" r="2.8"/><circle cx="628.4" cy="376.3" r="2.8"/><circle cx="623.3" cy="381.9" r="2.8"/><circle cx="618.0" cy="387.1" r="2.8"/><circle cx="612.3" cy="392.1" r="2.8"/><circle cx="606.6" cy="396.7" r="2.8"/><circle cx="600.6" cy="401.3" r="2.8"/><circle cx="593.7" cy="405.3" r="2.8"/><circle cx="586.5" cy="408.2" r="2.8"/><circle cx="579.4" cy="410.4" r="2.8"/><circle cx="572.1" cy="412.3" r="2.8"/><circle cx="564.7" cy="413.7" r="2.8"/><circle cx="557.2" cy="414.7" r="2.8"/><circle cx="549.7" cy="415.2" r="2.8"/><circle cx="542.1" cy="415.1" r="2.8"/><circle cx="534.5" cy="414.6" r="2.8"/><circle cx="527.1" cy="413.5" r="2.8"/><circle cx="519.6" cy="411.9" r="2.8"/><circle cx="512.4" cy="409.8" r="2.8"/><circle cx="505.5" cy="407.5" r="2.8"/><circle cx="498.5" cy="405.1" r="2.8"/><circle cx="491.5" cy="402.5" r="2.8"/><circle cx="484.7" cy="399.4" r="2.8"/><circle cx="478.2" cy="396.6" r="2.8"/><circle cx="471.5" cy="394.0" r="2.8"/><circle cx="464.9" cy="391.8" r="2.8"/><circle cx="458.0" cy="389.9" r="2.8"/><circle cx="451.0" cy="388.3" r="2.8"/><circle cx="444.0" cy="386.8" r="2.8"/><circle cx="437.0" cy="385.6" r="2.8"/><circle cx="429.9" cy="384.7" r="2.8"/><circle cx="422.8" cy="384.0" r="2.8"/><circle cx="415.6" cy="383.5" r="2.8"/><circle cx="408.2" cy="383.0" r="2.8"/><circle cx="400.9" cy="382.3" r="2.8"/><circle cx="393.8" cy="381.7" r="2.8"/><circle cx="386.5" cy="381.2" r="2.8"/><circle cx="379.2" cy="380.7" r="2.8"/><circle cx="371.9" cy="380.0" r="2.8"/><circle cx="364.6" cy="379.2" r="2.8"/><circle cx="357.4" cy="378.5" r="2.8"/><circle cx="350.2" cy="377.8" r="2.8"/><circle cx="342.9" cy="377.1" r="2.8"/><circle cx="335.7" cy="376.4" r="2.8"/><circle cx="328.3" cy="375.7" r="2.8"/><circle cx="320.7" cy="374.4" r="2.8"/><circle cx="313.4" cy="372.5" r="2.8"/><circle cx="306.3" cy="370.3" r="2.8"/><circle cx="299.3" cy="367.8" r="2.8"/><circle cx="292.4" cy="365.0" r="2.8"/><circle cx="285.5" cy="361.7" r="2.8"/><circle cx="278.9" cy="357.9" r="2.8"/><circle cx="272.7" cy="353.6" r="2.8"/><circle cx="266.8" cy="349.0" r="2.8"/><circle cx="261.1" cy="344.0" r="2.8"/><circle cx="255.7" cy="338.7" r="2.8"/><circle cx="250.8" cy="333.0" r="2.8"/><circle cx="246.2" cy="327.3" r="2.8"/><circle cx="241.6" cy="321.4" r="2.8"/><circle cx="237.3" cy="314.9" r="2.8"/><circle cx="234.0" cy="308.0" r="2.8"/><circle cx="231.0" cy="301.5" r="2.8"/><circle cx="227.8" cy="294.8" r="2.8"/><circle cx="225.1" cy="287.5" r="2.8"/><circle cx="223.1" cy="280.3" r="2.8"/><circle cx="221.2" cy="273.4" r="2.8"/><circle cx="219.3" cy="266.3" r="2.8"/><circle cx="217.6" cy="259.0" r="2.8"/><circle cx="216.2" cy="251.7" r="2.8"/><circle cx="215.0" cy="244.4" r="2.8"/><circle cx="214.2" cy="236.9" r="2.8"/><circle cx="213.9" cy="229.3" r="2.8"/><circle cx="222.1" cy="222.0" r="2.8"/><circle cx="222.2" cy="214.8" r="2.8"/><circle cx="222.5" cy="207.7" r="2.8"/><circle cx="223.2" cy="200.7" r="2.8"/><circle cx="224.2" cy="193.5" r="2.8"/><circle cx="225.4" cy="186.6" r="2.8"/><circle cx="227.1" cy="180.1" r="2.8"/><circle cx="229.6" cy="173.5" r="2.8"/><circle cx="232.4" cy="166.8" r="2.8"/><circle cx="235.2" cy="160.1" r="2.8"/><circle cx="238.1" cy="153.5" r="2.8"/><circle cx="241.1" cy="146.9" r="2.8"/><circle cx="244.1" cy="140.8" r="2.8"/><circle cx="248.0" cy="135.0" r="2.8"/><circle cx="252.2" cy="129.2" r="2.8"/><circle cx="256.6" cy="123.5" r="2.8"/><circle cx="261.1" cy="118.0" r="2.8"/><circle cx="265.9" cy="112.4" r="2.8"/><circle cx="270.7" cy="107.5" r="2.8"/><circle cx="275.8" cy="102.6" r="2.8"/><circle cx="281.1" cy="98.7" r="2.8"/><circle cx="287.2" cy="95.1" r="2.8"/><circle cx="293.6" cy="91.5" r="2.8"/><circle cx="299.8" cy="88.1" r="2.8"/><circle cx="306.2" cy="85.0" r="2.8"/><circle cx="312.6" cy="82.4" r="2.8"/><circle cx="319.1" cy="80.6" r="2.8"/><circle cx="326.0" cy="79.4" r="2.8"/><circle cx="333.1" cy="78.5" r="2.8"/><circle cx="340.1" cy="77.9" r="2.8"/><circle cx="347.0" cy="77.9" r="2.8"/><circle cx="354.3" cy="78.3" r="2.8"/><circle cx="361.9" cy="78.3" r="2.8"/><circle cx="369.3" cy="77.9" r="2.8"/><circle cx="376.6" cy="77.3" r="2.8"/><circle cx="384.0" cy="76.6" r="2.8"/><circle cx="391.4" cy="75.6" r="2.8"/><circle cx="398.7" cy="74.2" r="2.8"/><circle cx="405.9" cy="72.8" r="2.8"/><circle cx="413.0" cy="71.2" r="2.8"/><circle cx="419.8" cy="69.9" r="2.8"/><circle cx="427.3" cy="68.9" r="2.8"/><circle cx="434.4" cy="67.5" r="2.8"/><circle cx="441.4" cy="66.4" r="2.8"/><circle cx="448.4" cy="65.7" r="2.8"/><circle cx="455.6" cy="65.3" r="2.8"/><circle cx="462.7" cy="65.1" r="2.8"/><circle cx="469.7" cy="65.3" r="2.8"/><circle cx="476.6" cy="66.0" r="2.8"/><circle cx="483.5" cy="67.2" r="2.8"/><circle cx="490.3" cy="69.0" r="2.8"/><circle cx="497.1" cy="71.1" r="2.8"/><circle cx="503.7" cy="73.5" r="2.8"/><circle cx="510.4" cy="76.3" r="2.8"/><circle cx="517.1" cy="79.0" r="2.8"/><circle cx="523.6" cy="81.9" r="2.8"/><circle cx="530.0" cy="85.1" r="2.8"/><circle cx="536.5" cy="88.5" r="2.8"/><circle cx="542.9" cy="91.8" r="2.8"/><circle cx="549.5" cy="95.1" r="2.8"/><circle cx="556.0" cy="98.4" r="2.8"/><circle cx="562.6" cy="101.6" r="2.8"/><circle cx="569.2" cy="104.7" r="2.8"/><circle cx="575.6" cy="107.9" r="2.8"/><circle cx="582.1" cy="111.2" r="2.8"/><circle cx="588.7" cy="114.6" r="2.8"/><circle cx="595.3" cy="117.6" r="2.8"/><circle cx="601.3" cy="120.9" r="2.8"/><circle cx="607.2" cy="124.8" r="2.8"/><circle cx="613.1" cy="129.0" r="2.8"/><circle cx="618.9" cy="133.2" r="2.8"/><circle cx="624.3" cy="137.7" r="2.8"/><circle cx="629.5" cy="142.4" r="2.8"/><circle cx="634.1" cy="147.5" r="2.8"/><circle cx="638.4" cy="153.1" r="2.8"/><circle cx="642.7" cy="158.9" r="2.8"/><circle cx="646.9" cy="164.8" r="2.8"/><circle cx="651.1" cy="170.8" r="2.8"/><circle cx="655.0" cy="176.6" r="2.8"/><circle cx="657.9" cy="182.5" r="2.8"/><circle cx="660.0" cy="189.0" r="2.8"/><circle cx="661.8" cy="195.8" r="2.8"/><circle cx="663.0" cy="202.7" r="2.8"/><circle cx="663.6" cy="209.6" r="2.8"/><circle cx="663.9" cy="216.9" r="2.8"/><circle cx="664.3" cy="224.1" r="2.8"/><circle cx="664.5" cy="231.3" r="2.8"/><circle cx="664.7" cy="238.6" r="2.8"/><circle cx="664.7" cy="245.8" r="2.8"/><circle cx="664.7" cy="253.0" r="2.8"/><circle cx="664.6" cy="260.3" r="2.8"/><circle cx="664.4" cy="267.5" r="2.8"/><circle cx="663.9" cy="274.6" r="2.8"/><circle cx="663.3" cy="281.7" r="2.8"/><circle cx="662.2" cy="288.5" r="2.8"/><circle cx="660.6" cy="295.4" r="2.8"/><circle cx="658.7" cy="302.4" r="2.8"/><circle cx="656.6" cy="309.0" r="2.8"/><circle cx="654.0" cy="315.4" r="2.8"/><circle cx="650.8" cy="322.0" r="2.8"/><circle cx="647.8" cy="328.8" r="2.8"/><circle cx="645.0" cy="335.5" r="2.8"/><circle cx="642.1" cy="342.1" r="2.8"/><circle cx="639.0" cy="348.4" r="2.8"/><circle cx="635.4" cy="354.1" r="2.8"/><circle cx="631.2" cy="359.8" r="2.8"/><circle cx="626.7" cy="365.5" r="2.8"/><circle cx="622.2" cy="371.0" r="2.8"/><circle cx="617.4" cy="376.2" r="2.8"/><circle cx="612.4" cy="381.2" r="2.8"/><circle cx="607.1" cy="385.8" r="2.8"/><circle cx="601.5" cy="390.3" r="2.8"/><circle cx="595.9" cy="394.6" r="2.8"/><circle cx="590.2" cy="397.9" r="2.8"/><circle cx="583.9" cy="400.4" r="2.8"/><circle cx="577.1" cy="402.6" r="2.8"/><circle cx="570.3" cy="404.3" r="2.8"/><circle cx="563.4" cy="405.6" r="2.8"/><circle cx="556.4" cy="406.5" r="2.8"/><circle cx="549.4" cy="407.0" r="2.8"/><circle cx="542.4" cy="406.9" r="2.8"/><circle cx="535.5" cy="406.4" r="2.8"/><circle cx="528.5" cy="405.4" r="2.8"/><circle cx="521.7" cy="403.9" r="2.8"/><circle cx="514.9" cy="401.9" r="2.8"/><circle cx="508.0" cy="399.7" r="2.8"/><circle cx="501.2" cy="397.4" r="2.8"/><circle cx="494.6" cy="394.9" r="2.8"/><circle cx="488.1" cy="392.0" r="2.8"/><circle cx="481.2" cy="389.0" r="2.8"/><circle cx="474.4" cy="386.3" r="2.8"/><circle cx="467.2" cy="383.9" r="2.8"/><circle cx="460.0" cy="382.0" r="2.8"/><circle cx="452.8" cy="380.3" r="2.8"/><circle cx="445.6" cy="378.7" r="2.8"/><circle cx="438.2" cy="377.5" r="2.8"/><circle cx="430.8" cy="376.5" r="2.8"/><circle cx="423.4" cy="375.8" r="2.8"/><circle cx="416.1" cy="375.3" r="2.8"/><circle cx="408.9" cy="374.8" r="2.8"/><circle cx="401.7" cy="374.1" r="2.8"/><circle cx="394.4" cy="373.5" r="2.8"/><circle cx="387.1" cy="373.1" r="2.8"/><circle cx="379.9" cy="372.5" r="2.8"/><circle cx="372.7" cy="371.8" r="2.8"/><circle cx="365.5" cy="371.1" r="2.8"/><circle cx="358.2" cy="370.3" r="2.8"/><circle cx="350.9" cy="369.6" r="2.8"/><circle cx="343.6" cy="369.0" r="2.8"/><circle cx="336.4" cy="368.3" r="2.8"/><circle cx="329.3" cy="367.6" r="2.8"/><circle cx="322.5" cy="366.4" r="2.8"/><circle cx="315.7" cy="364.7" r="2.8"/><circle cx="308.9" cy="362.5" r="2.8"/><circle cx="302.2" cy="360.1" r="2.8"/><circle cx="295.7" cy="357.5" r="2.8"/><circle cx="289.3" cy="354.4" r="2.8"/><circle cx="283.3" cy="351.0" r="2.8"/><circle cx="277.6" cy="347.0" r="2.8"/><circle cx="272.0" cy="342.6" r="2.8"/><circle cx="266.7" cy="338.0" r="2.8"/><circle cx="261.7" cy="333.1" r="2.8"/><circle cx="257.1" cy="327.8" r="2.8"/><circle cx="252.6" cy="322.1" r="2.8"/><circle cx="248.2" cy="316.5" r="2.8"/><circle cx="244.5" cy="310.9" r="2.8"/><circle cx="241.5" cy="304.6" r="2.8"/><circle cx="238.4" cy="297.9" r="2.8"/><circle cx="235.3" cy="291.5" r="2.8"/><circle cx="233.0" cy="285.1" r="2.8"/><circle cx="231.1" cy="278.2" r="2.8"/><circle cx="229.1" cy="271.2" r="2.8"/><circle cx="227.2" cy="264.2" r="2.8"/><circle cx="225.6" cy="257.3" r="2.8"/><circle cx="224.3" cy="250.3" r="2.8"/><circle cx="223.1" cy="243.2" r="2.8"/><circle cx="222.3" cy="236.3" r="2.8"/><circle cx="222.1" cy="229.3" r="2.8"/></g>
<g fill="url(#bg)" stroke="#a01626" stroke-width="1.25" fill-opacity="0.96"><circle cx="204.9" cy="138.8" r="5.55"/><circle cx="185.3" cy="145.2" r="5.55"/><circle cx="198.1" cy="145.2" r="5.55"/><circle cx="215.8" cy="145.2" r="5.55"/><circle cx="223.7" cy="145.4" r="5.55"/><circle cx="191.8" cy="152.3" r="5.55"/><circle cx="210.9" cy="152.3" r="5.55"/><circle cx="185.3" cy="158.6" r="5.55"/><circle cx="198.2" cy="158.6" r="5.55"/><circle cx="223.8" cy="158.6" r="5.55"/><circle cx="236.6" cy="158.4" r="5.55"/><circle cx="205.2" cy="164.8" r="5.55"/><circle cx="217.6" cy="164.8" r="5.55"/><circle cx="236.6" cy="164.8" r="5.55"/><circle cx="223.9" cy="171.5" r="5.55"/><circle cx="249.3" cy="171.5" r="5.55"/><circle cx="211.2" cy="177.4" r="5.55"/><circle cx="236.6" cy="177.4" r="5.55"/><circle cx="249.3" cy="184.0" r="5.55"/></g>
<line x1="256.9" y1="176.3" x2="302.0" y2="191.5" stroke="#222" stroke-width="1.5"/><line x1="300.6" y1="195.8" x2="303.4" y2="187.2" stroke="#222" stroke-width="1.5"/><line x1="374.6" y1="189.3" x2="419.6" y2="171.7" stroke="#222" stroke-width="1.5"/><line x1="421.2" y1="175.9" x2="418.0" y2="167.5" stroke="#222" stroke-width="1.5"/><line x1="489.5" y1="180.4" x2="529.7" y2="198.0" stroke="#111" stroke-width="1.35"/><polyline points="523.2,198.6 530.4,198.3 525.7,192.8" fill="none" stroke="#111" stroke-width="1.35" stroke-linejoin="miter"/><line x1="437.8" y1="189.9" x2="430.9" y2="241.0" stroke="#111" stroke-width="1.4"/><polyline points="428.5,234.9 430.8,241.8 434.8,235.8" fill="none" stroke="#111" stroke-width="1.4" stroke-linejoin="miter"/><line x1="469.3" y1="241.4" x2="525.3" y2="212.9" stroke="#111" stroke-width="2.1"/><polyline points="521.0,219.3 526.0,212.5 517.6,212.5" fill="none" stroke="#111" stroke-width="2.1" stroke-linejoin="miter"/><line x1="590.3" y1="222.7" x2="590.3" y2="258.9" stroke="#111" stroke-width="1.15"/><polyline points="587.7,254.2 590.3,259.7 592.9,254.2" fill="none" stroke="#111" stroke-width="1.15" stroke-linejoin="miter"/><line x1="552.4" y1="259.7" x2="552.2" y2="227.7" stroke="#777" stroke-width="1.3"/><line x1="555.4" y1="227.7" x2="549.0" y2="227.7" stroke="#777" stroke-width="1.3"/><line x1="572.0" y1="295.5" x2="569.8" y2="327.0" stroke="#444" stroke-width="1.1"/><line x1="566.6" y1="326.8" x2="573.0" y2="327.2" stroke="#444" stroke-width="1.1"/><line x1="692.2" y1="377.3" x2="736.0" y2="377.3" stroke="#111" stroke-width="1.5"/><polyline points="731.8,379.7 736.8,377.3 731.8,374.9" fill="none" stroke="#111" stroke-width="1.5" stroke-linejoin="miter"/><line x1="694.0" y1="404.8" x2="732.5" y2="405.8" stroke="#333" stroke-width="1.5"/><line x1="732.4" y1="409.8" x2="732.6" y2="401.8" stroke="#333" stroke-width="1.5"/>
<ellipse cx="340.0" cy="190.7" rx="33.0" ry="19.6" fill="url(#eg)" stroke="#f8da44" stroke-width="1.3"/><text x="318.86" y="195.90" font-size="16.42" textLength="41.48" lengthAdjust="spacingAndGlyphs">PTEN</text><ellipse cx="455.5" cy="168.5" rx="32.8" ry="16.6" fill="url(#eg)" stroke="#f8da44" stroke-width="1.3"/><text x="437.82" y="173.70" font-size="16.57" textLength="35.74" lengthAdjust="spacingAndGlyphs">PI3K</text><ellipse cx="571.0" cy="203.8" rx="39.0" ry="19.7" fill="url(#eg)" stroke="#f8da44" stroke-width="1.3"/><text x="557.80" y="208.70" font-size="15.99" textLength="25.49" lengthAdjust="spacingAndGlyphs">Akt</text><ellipse cx="439.5" cy="261.4" rx="35.5" ry="19.6" fill="url(#eg)" stroke="#f8da44" stroke-width="1.3"/><text x="405.76" y="266.60" font-size="15.70" textLength="66.87" lengthAdjust="spacingAndGlyphs">mTORC2</text><ellipse cx="568.3" cy="277.7" rx="36.3" ry="16.5" fill="url(#eg)" stroke="#f8da44" stroke-width="1.3"/><text x="533.78" y="282.60" font-size="15.99" textLength="65.96" lengthAdjust="spacingAndGlyphs">mTORC1</text><ellipse cx="567.9" cy="351.4" rx="49.1" ry="19.2" fill="url(#eg)" stroke="#f8da44" stroke-width="1.3"/><text x="525.70" y="356.70" font-size="15.99" textLength="82.57" lengthAdjust="spacingAndGlyphs">Autophagy</text>
<polygon points="614.3,349.1 655.4,324.2 658.5,330.4 683.3,316 687.4,324.2 714.7,309.1 725.5,338.6 693.6,343.3 690.5,337.8 663.2,346.9 660,341" fill="#ff0000"/>
<line x1="675.5" y1="320.1" x2="694.1" y2="339.1" stroke="#111" stroke-width="2.2"/>
<line x1="693.6" y1="320.4" x2="675.5" y2="338.9" stroke="#111" stroke-width="2.2"/>
<text x="141.93" y="126.70" font-size="15.55" textLength="74.62" lengthAdjust="spacingAndGlyphs">Berberine</text>
<text x="714.30" y="299.90" font-size="15.70" textLength="122.54" lengthAdjust="spacingAndGlyphs">ADR Resistance</text>
<text x="746.31" y="382.60" font-size="13.60" textLength="63.33" lengthAdjust="spacingAndGlyphs">activation</text>
<text x="745.74" y="407.80" font-size="13.60" textLength="61.91" lengthAdjust="spacingAndGlyphs">inhibition</text>
</svg>
<div id="cap">
<div><b>Figure 6</b> Berberine reverses doxorubicin resistance by inhibiting autophagy through the PTEN/Akt/mTOR signaling pathway in breast cancer. BBR inhibits autophagy,</div>
<div>therefore, reversing ADR resistance by inhibiting the PTEN/Akt/mTOR signaling pathway. Akt phosphorylation results in mTORC1 activation and mTORC1 activation has</div>
<div>inhibited effects on the PI3K/Akt signaling pathway. A positive regulation exists between the PI3K signaling and mTORC2. Activation of mTORC1 downregulates autophagy,</div>
<div class="last">and Akt phosphorylation by mTORC2 also contributes to inhibition of autophagy.</div>
</div>
</body></html>
